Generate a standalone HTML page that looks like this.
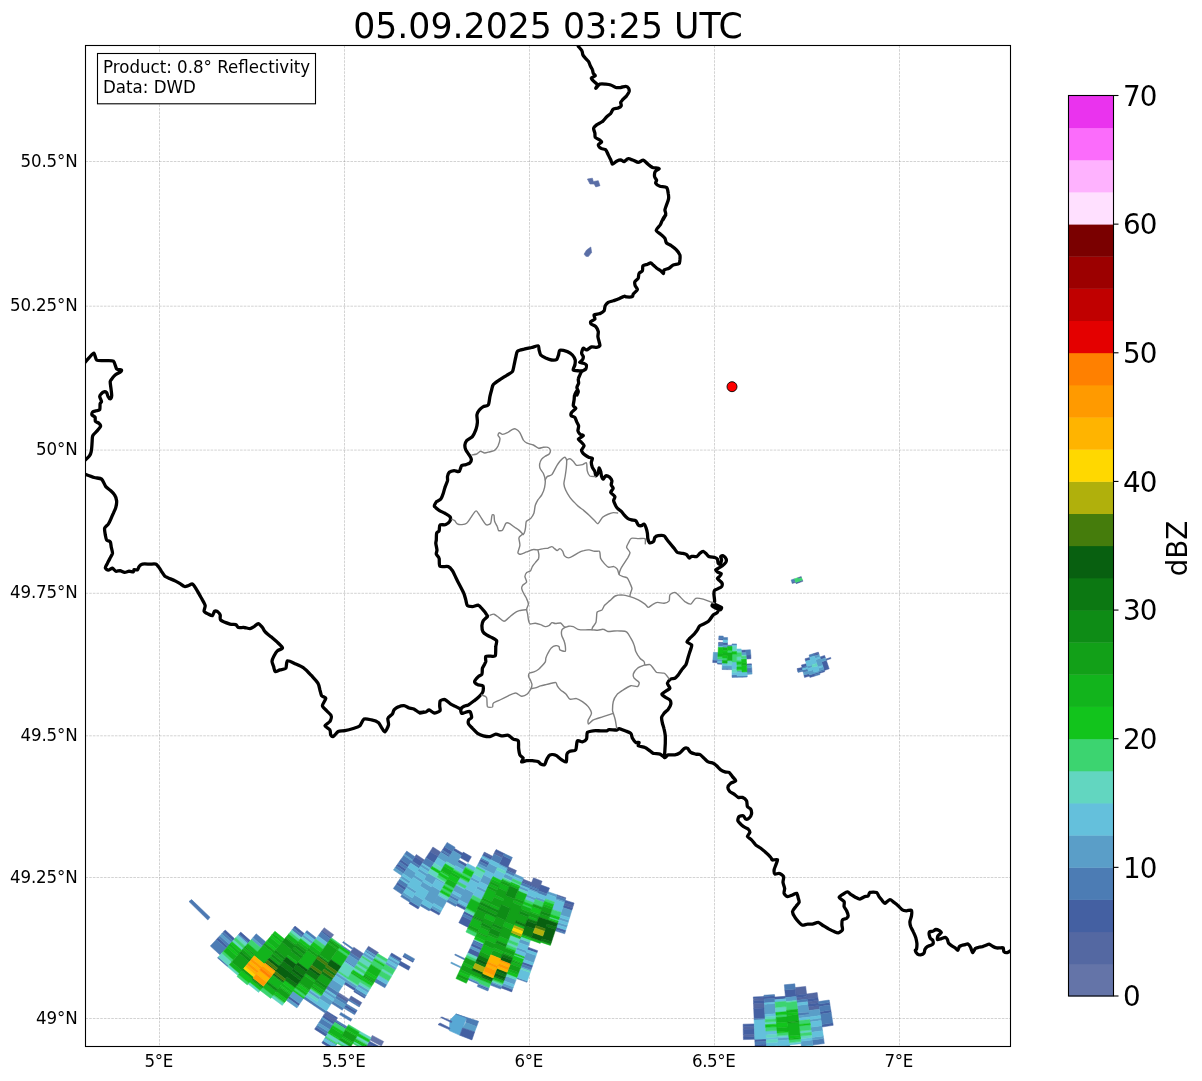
<!DOCTYPE html><html><head><meta charset="utf-8"><title>Radar</title><style>html,body{margin:0;padding:0;background:#fff}svg{display:block}text{font-family:"DejaVu Sans","Liberation Sans",sans-serif;fill:#000}</style></head><body>
<svg width="1202" height="1081" viewBox="0 0 1202 1081">
<rect width="1202" height="1081" fill="#fff"/>
<defs><clipPath id="c"><rect x="85.5" y="45.5" width="925.0" height="1001.0"/></clipPath></defs>
<g clip-path="url(#c)">
<g stroke="#808080" stroke-width="0.69" stroke-dasharray="2.57,1.11" stroke-opacity="0.5" fill="none">
<line x1="159.5" y1="45.5" x2="159.5" y2="1046.5"/>
<line x1="344.5" y1="45.5" x2="344.5" y2="1046.5"/>
<line x1="529.5" y1="45.5" x2="529.5" y2="1046.5"/>
<line x1="714.5" y1="45.5" x2="714.5" y2="1046.5"/>
<line x1="899.5" y1="45.5" x2="899.5" y2="1046.5"/>
<line x1="85.5" y1="161.5" x2="1010.5" y2="161.5"/>
<line x1="85.5" y1="306.2" x2="1010.5" y2="306.2"/>
<line x1="85.5" y1="450.1" x2="1010.5" y2="450.1"/>
<line x1="85.5" y1="593.3" x2="1010.5" y2="593.3"/>
<line x1="85.5" y1="735.8" x2="1010.5" y2="735.8"/>
<line x1="85.5" y1="877.5" x2="1010.5" y2="877.5"/>
<line x1="85.5" y1="1018.5" x2="1010.5" y2="1018.5"/>
</g>
<g shape-rendering="auto"><path fill="#6474a8" stroke="#6474a8" stroke-width="0.5" stroke-linejoin="round" d="M383.7 1041.5L372.3 1035.4L369.8 1039.9L381.3 1046.1ZM349.1 999.3L338.4 992.5L337.7 993.6L348.4 1000.4ZM333.7 934.7L324.2 927.7L321.9 930.8L331.4 937.8Z"/>
<path fill="#5468a2" stroke="#5468a2" stroke-width="0.5" stroke-linejoin="round" d="M801.2 576.5L797.8 577.7L798.2 578.9L801.6 577.7ZM802.5 580.1L799.1 581.3L799.5 582.5L802.9 581.3ZM795.3 581.2L791.9 582.3L792.2 583.5L795.7 582.5ZM818.3 652.1L813.7 653.6L814.0 654.8L818.7 653.3ZM817.2 992.6L806.6 994.0L807.2 999.1L817.9 997.7ZM818.3 1000.3L807.5 1001.7L807.8 1004.2L818.6 1002.8ZM819.0 1005.4L808.2 1006.8L808.6 1010.6L819.5 1009.2ZM805.7 986.4L795.2 987.6L796.0 995.3L806.6 994.0ZM806.9 996.6L796.3 997.8L796.5 1000.4L807.2 999.1ZM764.0 997.8L753.4 998.2L753.5 1000.8L764.2 1000.3ZM764.3 1002.9L753.5 1003.4L753.7 1008.5L764.6 1008.0ZM754.3 1026.5L743.2 1026.8L743.2 1029.3L754.4 1029.1ZM754.6 1034.2L743.3 1034.5L743.4 1037.1L754.7 1036.8ZM573.3 905.5L564.3 902.7L563.5 905.1L572.6 908.0ZM565.9 897.8L557.0 894.8L556.6 896.0L565.5 899.0ZM542.1 881.2L533.5 877.8L530.6 884.9L539.4 888.4ZM531.6 882.5L523.0 879.0L522.0 881.3L530.6 884.9ZM516.5 870.6L508.1 866.7L507.0 869.0L515.4 872.9ZM503.1 855.8L494.9 851.7L493.8 854.0L502.0 858.1ZM492.6 856.3L484.4 852.1L483.8 853.2L492.0 857.5ZM379.5 1049.5L368.0 1043.2L366.7 1045.5L378.3 1051.8ZM361.8 1002.6L351.1 996.0L349.1 999.3L359.8 1005.9ZM441.0 852.2L432.9 847.0L430.1 851.4L438.3 856.6ZM378.4 952.5L368.5 946.2L367.1 948.4L377.0 954.6ZM348.4 1000.4L337.7 993.6L336.3 995.8L347.0 1002.6ZM336.8 1018.9L325.8 1011.9L323.7 1015.2L334.8 1022.2ZM424.5 860.0L416.3 854.5L414.9 856.7L423.1 862.1ZM363.6 953.7L353.8 947.2L350.2 952.6L360.1 959.1Z"/>
<path fill="#4460a2" stroke="#4460a2" stroke-width="0.5" stroke-linejoin="round" d="M830.6 657.4L825.9 659.1L826.3 660.3L831.0 658.6ZM799.1 581.3L795.7 582.5L796.1 583.7L799.5 582.5ZM824.6 655.4L819.9 657.0L820.7 659.5L825.4 657.9ZM826.3 660.3L821.5 661.9L824.3 670.5L829.2 668.8ZM818.7 653.3L814.0 654.8L814.4 656.0L819.1 654.6ZM824.3 670.5L819.3 672.0L819.7 673.2L824.7 671.7ZM819.3 672.0L814.3 673.5L814.6 674.7L819.7 673.2ZM809.7 657.4L805.0 658.8L805.6 661.2L810.4 659.9ZM814.3 673.5L809.3 674.9L809.9 677.4L815.0 676.0ZM806.3 663.7L801.4 665.0L802.1 667.5L806.9 666.2ZM808.9 673.7L803.9 674.9L804.5 677.4L809.6 676.1ZM802.1 667.5L797.1 668.6L797.7 671.2L802.7 670.0ZM829.6 1002.5L818.8 1004.1L819.2 1006.6L830.0 1005.0ZM830.8 1010.1L819.9 1011.7L820.2 1014.3L831.2 1012.6ZM832.8 1022.8L821.7 1024.5L822.0 1027.0L833.2 1025.3ZM817.9 997.7L807.2 999.1L807.5 1001.7L818.3 1000.3ZM818.6 1002.8L807.8 1004.2L808.2 1006.8L819.0 1005.4ZM806.6 994.0L796.0 995.3L796.3 997.8L806.9 996.6ZM795.3 988.9L784.8 989.9L785.5 997.6L796.1 996.5ZM785.3 996.3L774.7 997.1L774.9 999.7L785.6 998.8ZM750.8 654.9L746.1 655.1L746.3 659.0L751.0 658.7ZM751.4 663.8L746.5 664.1L746.6 665.4L751.5 665.1ZM774.6 995.8L764.0 996.5L764.1 999.0L774.8 998.4ZM745.8 650.0L741.2 650.2L741.3 652.8L745.9 652.6ZM764.0 996.5L753.3 996.9L753.4 998.2L764.0 997.8ZM764.2 1000.3L753.5 1000.8L753.5 1003.4L764.3 1002.9ZM764.6 1008.0L753.7 1008.5L754.1 1018.8L765.1 1018.3ZM766.2 1038.8L754.8 1039.3L754.9 1041.9L766.3 1041.4ZM766.5 1044.0L755.0 1044.5L755.1 1047.0L766.6 1046.5ZM754.3 1023.9L743.1 1024.2L743.2 1026.8L754.3 1026.5ZM754.4 1029.1L743.2 1029.3L743.3 1034.5L754.6 1034.2ZM754.7 1036.8L743.4 1037.1L743.4 1039.6L754.8 1039.3ZM727.5 642.6L723.1 642.5L723.0 645.1L727.5 645.2ZM723.2 638.7L718.8 638.5L718.7 639.7L723.1 639.9ZM723.1 642.5L718.6 642.3L718.5 643.6L723.0 643.8ZM722.3 663.1L717.5 662.8L717.5 664.1L722.3 664.3ZM717.7 660.3L712.9 660.0L712.7 662.5L717.5 662.8ZM574.1 903.0L565.1 900.2L564.3 902.7L573.3 905.5ZM572.6 908.0L563.5 905.1L562.7 907.5L571.8 910.4ZM565.8 930.1L556.4 927.1L555.6 929.5L565.1 932.5ZM537.7 950.7L527.9 947.2L527.0 949.6L536.9 953.1ZM532.7 965.3L522.6 961.7L521.8 964.1L531.9 967.7ZM549.5 888.0L540.7 884.8L538.4 890.8L547.3 894.1ZM512.5 989.5L502.0 985.5L501.1 987.9L511.7 991.9ZM539.4 888.4L530.6 884.9L530.1 886.1L538.9 889.6ZM538.4 890.8L529.7 887.3L529.2 888.5L538.0 892.0ZM530.6 884.9L522.0 881.3L521.5 882.5L530.1 886.1ZM488.7 988.6L478.3 984.2L477.8 985.4L488.3 989.8ZM515.4 872.9L507.0 869.0L506.4 870.2L514.9 874.1ZM483.6 944.5L473.9 940.1L473.3 941.3L483.0 945.7ZM482.0 948.0L472.2 943.6L471.1 945.9L480.9 950.4ZM479.9 952.7L470.1 948.2L467.9 952.9L477.8 957.4ZM511.3 859.7L503.1 855.8L499.2 863.9L507.5 867.9ZM504.2 853.5L496.1 849.5L494.9 851.7L503.1 855.8ZM473.8 915.9L464.6 911.3L463.4 913.6L472.7 918.2ZM471.6 920.5L462.3 915.9L458.8 922.7L468.2 927.4ZM492.0 857.5L483.8 853.2L482.6 855.5L490.9 859.8ZM489.1 863.2L480.8 858.9L479.6 861.2L487.9 865.5ZM466.4 907.8L457.3 903.1L456.1 905.4L465.2 910.1ZM380.7 1047.2L369.2 1041.0L368.0 1043.2L379.5 1049.5ZM471.4 856.7L463.2 852.1L460.0 857.6L468.3 862.3ZM467.0 864.5L458.7 859.8L457.4 862.1L465.8 866.8ZM440.2 912.9L431.1 907.7L429.8 909.9L439.0 915.1ZM413.4 961.2L403.5 955.5L402.8 956.7L412.8 962.3ZM410.3 966.8L400.2 961.1L398.3 964.5L408.5 970.2ZM462.6 853.2L454.5 848.4L453.1 850.6L461.3 855.4ZM401.5 958.9L391.6 953.0L390.3 955.2L400.2 961.1ZM452.5 851.7L444.4 846.7L442.4 850.0L450.5 855.0ZM449.8 856.1L441.7 851.1L441.0 852.2L449.2 857.2ZM419.4 906.8L410.4 901.2L409.0 903.4L418.1 909.0ZM365.1 997.1L354.5 990.6L353.8 991.7L364.5 998.2ZM356.5 1011.4L345.7 1004.8L344.3 1006.9L355.2 1013.6ZM346.6 1027.9L335.5 1021.1L334.8 1022.2L345.9 1029.0ZM334.7 1047.8L323.2 1040.7L321.8 1042.9L333.4 1050.0ZM438.3 856.6L430.1 851.4L425.9 857.8L434.2 863.1ZM377.0 954.6L367.1 948.4L366.4 949.4L376.3 955.7ZM355.9 988.4L345.4 981.8L344.0 983.9L354.5 990.6ZM337.5 1017.8L326.5 1010.9L325.8 1011.9L336.8 1018.9ZM334.8 1022.2L323.7 1015.2L322.3 1017.3L333.4 1024.4ZM327.3 1034.2L316.0 1027.0L314.6 1029.2L325.9 1036.4ZM423.1 862.1L414.9 856.7L412.0 860.9L420.3 866.4ZM406.3 888.0L397.6 882.2L396.2 884.4L404.9 890.2ZM409.1 865.2L400.8 859.5L399.3 861.6L407.7 867.3ZM406.2 869.5L397.9 863.7L396.4 865.8L404.8 871.6ZM299.8 1003.7L289.1 996.1L287.6 998.1L298.4 1005.8ZM331.4 937.8L321.9 930.8L321.1 931.8L330.7 938.9ZM304.5 933.7L295.0 926.1L293.4 928.1L302.9 935.7ZM250.3 940.6L240.7 932.1L239.0 934.0L248.6 942.5ZM234.7 938.8L225.2 930.0L223.4 931.9L233.0 940.7ZM227.8 946.4L218.1 937.5L216.4 939.4L226.1 948.3Z"/>
<path fill="#4c7cb4" stroke="#4c7cb4" stroke-width="0.5" stroke-linejoin="round" d="M794.5 578.8L791.1 579.9L791.9 582.3L795.3 581.2ZM823.9 669.2L818.9 670.8L819.3 672.0L824.3 670.5ZM813.7 653.6L809.0 655.0L809.7 657.4L814.4 656.0ZM819.7 673.2L814.6 674.7L815.0 676.0L820.0 674.5ZM806.9 666.2L802.1 667.5L802.4 668.7L807.3 667.4ZM807.6 668.7L802.7 670.0L803.3 672.5L808.3 671.2ZM802.7 670.0L797.7 671.2L798.0 672.4L803.0 671.2ZM829.2 1000.0L818.4 1001.6L818.8 1004.1L829.6 1002.5ZM830.0 1005.0L819.2 1006.6L819.9 1011.7L830.8 1010.1ZM831.2 1012.6L820.2 1014.3L821.7 1024.5L832.8 1022.8ZM823.6 1038.5L812.2 1040.0L812.9 1045.1L824.3 1043.5ZM807.2 999.1L796.5 1000.4L796.8 1002.9L807.5 1001.7ZM808.8 1011.9L797.9 1013.1L798.1 1015.7L809.1 1014.4ZM794.8 983.8L784.3 984.8L784.8 989.9L795.3 988.9ZM750.4 649.7L745.8 650.0L746.1 655.1L750.8 654.9ZM751.7 667.7L746.8 668.0L747.0 673.1L752.0 672.8ZM774.5 994.6L763.9 995.2L764.0 996.5L774.6 995.8ZM774.8 998.4L764.1 999.0L764.3 1002.9L775.1 1002.2ZM747.2 675.7L742.1 675.9L742.2 677.2L747.2 677.0ZM765.1 1018.3L754.1 1018.8L754.1 1020.1L765.2 1019.6ZM766.3 1041.4L754.9 1041.9L755.0 1044.5L766.5 1044.0ZM742.1 675.9L737.1 676.0L737.1 677.3L742.2 677.2ZM736.5 643.9L732.0 643.9L732.0 645.2L736.5 645.2ZM737.0 674.7L732.0 674.8L732.0 677.4L737.1 677.3ZM732.0 645.2L727.5 645.2L727.5 646.5L732.0 646.5ZM732.0 668.4L727.1 668.3L727.1 669.6L732.0 669.6ZM727.6 637.5L723.2 637.4L723.1 639.9L727.6 640.1ZM727.1 668.3L722.2 668.2L722.1 669.5L727.1 669.6ZM723.3 636.1L718.9 635.9L718.8 638.5L723.2 638.7ZM723.0 643.8L718.5 643.6L718.4 646.2L722.9 646.4ZM565.1 932.5L555.6 929.5L555.2 930.8L564.7 933.8ZM565.5 899.0L556.6 896.0L555.7 898.4L564.7 901.4ZM531.9 967.7L521.8 964.1L520.9 966.5L531.0 970.1ZM527.3 981.1L516.9 977.4L516.5 978.6L526.9 982.3ZM547.3 894.1L538.4 890.8L537.5 893.2L546.4 896.5ZM538.9 889.6L530.1 886.1L529.7 887.3L538.4 890.8ZM501.6 986.7L491.1 982.6L490.2 985.0L500.7 989.1ZM530.1 886.1L521.5 882.5L520.4 884.9L529.2 888.5ZM488.3 989.8L477.8 985.4L477.3 986.6L487.8 991.0ZM478.8 983.1L468.4 978.6L467.9 979.7L478.3 984.2ZM514.9 874.1L506.4 870.2L505.4 872.5L513.9 876.4ZM483.0 945.7L473.3 941.3L472.2 943.6L482.0 948.0ZM512.4 857.4L504.2 853.5L503.1 855.8L511.3 859.7ZM465.2 958.7L455.2 954.0L454.7 955.1L464.6 959.9ZM502.0 858.1L493.8 854.0L490.9 859.8L499.2 863.9ZM472.7 918.2L463.4 913.6L462.3 915.9L471.6 920.5ZM489.7 862.0L481.4 857.7L480.8 858.9L489.1 863.2ZM487.9 865.5L479.6 861.2L478.4 863.4L486.8 867.8ZM459.1 899.7L450.2 894.9L449.0 897.1L457.9 902.0ZM456.7 904.3L447.7 899.4L446.5 901.6L455.5 906.5ZM414.7 958.9L404.7 953.3L403.5 955.5L413.4 961.2ZM430.4 908.8L421.4 903.5L420.1 905.7L429.2 911.0ZM400.2 961.1L390.3 955.2L389.6 956.3L399.6 962.2ZM386.8 984.5L376.4 978.4L374.4 981.7L384.8 987.8ZM455.1 847.3L447.1 842.4L444.4 846.7L452.5 851.7ZM450.5 855.0L442.4 850.0L441.7 851.1L449.8 856.1ZM366.4 994.9L355.9 988.4L354.5 990.6L365.1 997.1ZM359.8 1005.9L349.1 999.3L348.4 1000.4L359.2 1007.0ZM357.2 1010.3L346.3 1003.7L345.7 1004.8L356.5 1011.4ZM355.2 1013.6L344.3 1006.9L343.6 1008.0L354.5 1014.7ZM351.9 1019.1L340.9 1012.4L339.5 1014.6L350.6 1021.3ZM347.3 1026.8L336.1 1020.0L335.5 1021.1L346.6 1027.9ZM434.2 863.1L425.9 857.8L422.4 863.2L430.8 868.5ZM411.0 900.1L402.1 894.5L400.7 896.6L409.7 902.3ZM375.6 956.8L365.7 950.5L365.0 951.6L374.9 957.9ZM347.0 1002.6L336.3 995.8L334.9 997.9L345.7 1004.8ZM343.6 1008.0L332.8 1001.2L331.4 1003.3L342.3 1010.2ZM332.7 1025.5L321.6 1018.4L318.8 1022.7L330.0 1029.8ZM328.6 1032.0L317.4 1024.9L316.0 1027.0L327.3 1034.2ZM420.3 866.4L412.0 860.9L410.6 863.1L418.9 868.6ZM408.4 884.8L399.8 879.0L397.6 882.2L406.3 888.0ZM404.9 890.2L396.2 884.4L393.3 888.6L402.1 894.5ZM360.1 959.1L350.2 952.6L348.8 954.7L358.7 961.3ZM355.2 966.7L345.2 960.0L344.4 961.1L354.5 967.7ZM338.4 992.5L327.9 985.6L325.8 988.8L336.3 995.8ZM326.5 1010.9L315.7 1003.7L314.3 1005.8L325.1 1013.0ZM414.9 856.7L406.7 851.1L404.5 854.2L412.7 859.9ZM412.0 860.9L403.8 855.3L400.8 859.5L409.1 865.2ZM407.7 867.3L399.3 861.6L397.9 863.7L406.2 869.5ZM404.8 871.6L396.4 865.8L394.9 867.9L403.4 873.7ZM353.1 948.3L343.3 941.6L342.6 942.6L352.3 949.4ZM350.9 951.5L341.1 944.7L340.4 945.8L350.2 952.6ZM315.7 1003.7L305.0 996.3L303.5 998.4L314.3 1005.8ZM330.7 938.9L321.1 931.8L318.0 935.9L327.7 943.0ZM316.5 937.9L306.9 930.6L305.3 932.6L314.9 940.0ZM302.9 935.7L293.4 928.1L291.8 930.1L301.4 937.7ZM265.9 942.0L256.2 933.8L252.9 937.7L262.6 946.0ZM248.6 942.5L239.0 934.0L238.2 935.0L247.8 943.5ZM228.4 965.8L218.4 956.9L217.5 957.9L227.6 966.8ZM233.0 940.7L223.4 931.9L221.7 933.8L231.3 942.6ZM229.6 944.5L219.9 935.7L218.1 937.5L227.8 946.4ZM226.1 948.3L216.4 939.4L210.3 946.0L220.1 955.0Z"/>
<path fill="#5a9ec8" stroke="#5a9ec8" stroke-width="0.5" stroke-linejoin="round" d="M825.4 657.9L820.7 659.5L821.5 661.9L826.3 660.3ZM819.1 654.6L814.4 656.0L815.2 658.5L819.9 657.0ZM820.3 658.2L815.5 659.7L817.8 667.1L822.7 665.6ZM823.1 666.8L818.2 668.3L818.9 670.8L823.9 669.2ZM818.9 670.8L813.9 672.3L814.3 673.5L819.3 672.0ZM811.8 664.9L806.9 666.2L807.6 668.7L812.5 667.3ZM813.2 669.8L808.3 671.2L809.3 674.9L814.3 673.5ZM808.3 671.2L803.3 672.5L803.9 674.9L808.9 673.7ZM819.5 1009.2L808.6 1010.6L809.4 1017.0L820.4 1015.6ZM820.8 1018.1L809.7 1019.6L810.0 1022.1L821.1 1020.6ZM821.8 1025.7L810.7 1027.2L811.3 1032.3L822.6 1030.8ZM823.3 1035.9L811.9 1037.4L812.2 1040.0L823.6 1038.5ZM807.8 1004.2L797.1 1005.5L797.9 1013.1L808.8 1011.9ZM809.1 1014.4L798.1 1015.7L798.4 1018.3L809.4 1017.0ZM812.2 1040.0L800.8 1041.3L801.4 1046.4L812.9 1045.1ZM796.1 996.5L785.5 997.6L785.8 1001.4L796.5 1000.4ZM788.9 1037.2L777.6 1038.1L777.7 1040.7L789.2 1039.8ZM789.6 1044.9L778.1 1045.8L778.2 1047.1L789.7 1046.2ZM751.5 665.1L746.6 665.4L746.8 668.0L751.7 667.7ZM752.0 672.8L747.0 673.1L747.1 674.4L752.1 674.1ZM775.1 1003.5L764.4 1004.2L764.9 1014.4L775.9 1013.8ZM745.9 652.6L741.3 652.8L741.4 655.3L746.1 655.1ZM741.9 670.8L737.0 670.9L737.0 672.2L742.0 672.0ZM732.0 665.8L727.1 665.7L727.1 668.3L732.0 668.4ZM727.5 645.2L723.0 645.1L722.9 647.6L727.4 647.8ZM727.1 665.7L722.3 665.6L722.2 668.2L727.1 668.3ZM722.5 659.2L717.7 659.0L717.6 661.6L722.4 661.8ZM718.1 652.6L713.4 652.3L712.9 660.0L717.7 660.3ZM571.8 910.4L562.7 907.5L560.3 914.9L569.6 917.8ZM568.8 920.2L559.5 917.3L558.7 919.8L568.1 922.7ZM567.3 925.2L557.9 922.2L557.1 924.7L566.6 927.6ZM564.7 901.4L555.7 898.4L555.3 899.6L564.3 902.7ZM557.0 894.8L548.1 891.7L547.3 894.1L556.1 897.2ZM536.1 955.5L526.2 952.0L523.5 959.3L533.6 962.8ZM531.0 970.1L520.9 966.5L520.5 967.7L530.6 971.3ZM545.1 900.1L536.1 896.8L535.2 899.2L544.2 902.5ZM529.7 942.4L520.0 938.8L518.6 942.4L528.4 946.0ZM526.6 950.8L516.8 947.2L515.9 949.6L525.7 953.2ZM516.1 979.8L505.7 975.9L503.9 980.7L514.3 984.6ZM513.4 987.0L503.0 983.1L502.0 985.5L512.5 989.5ZM538.0 892.0L529.2 888.5L528.7 889.7L537.5 893.2ZM535.7 898.0L526.8 894.5L525.8 896.8L534.7 900.4ZM502.0 985.5L491.6 981.4L491.1 982.6L501.6 986.7ZM528.7 889.7L519.9 886.1L518.9 888.4L527.7 892.1ZM489.2 987.4L478.8 983.1L478.3 984.2L488.7 988.6ZM523.5 877.8L514.9 874.1L513.9 876.4L522.5 880.2ZM479.3 981.9L468.9 977.4L468.4 978.6L478.8 983.1ZM513.3 877.6L504.8 873.7L503.2 877.2L511.8 881.1ZM480.9 950.4L471.1 945.9L470.1 948.2L479.9 952.7ZM507.5 867.9L499.2 863.9L498.6 865.0L507.0 869.0ZM461.4 966.9L451.3 962.1L450.7 963.2L460.8 968.0ZM497.5 867.4L489.1 863.2L485.6 870.1L494.1 874.3ZM491.8 878.9L483.3 874.6L479.8 881.5L488.5 885.8ZM486.2 890.5L477.4 886.1L476.3 888.4L485.1 892.8ZM490.9 859.8L482.6 855.5L482.0 856.6L490.3 860.9ZM486.8 867.8L478.4 863.4L477.2 865.7L485.6 870.1ZM479.8 881.5L471.2 877.0L470.0 879.3L478.6 883.8ZM473.9 893.0L465.1 888.4L459.1 899.7L468.1 904.4ZM466.9 906.7L457.9 902.0L457.3 903.1L466.4 907.8ZM464.5 889.5L455.8 884.8L452.7 890.4L461.5 895.2ZM460.3 897.5L451.4 892.6L450.2 894.9L459.1 899.7ZM457.9 902.0L449.0 897.1L447.7 899.4L456.7 904.3ZM465.8 866.8L457.4 862.1L455.5 865.4L463.9 870.2ZM447.1 900.5L438.2 895.5L433.7 903.2L442.7 908.4ZM441.5 910.6L432.4 905.5L431.1 907.7L440.2 912.9ZM461.3 855.4L453.1 850.6L446.5 861.6L454.9 866.5ZM445.2 883.2L436.6 878.1L435.9 879.2L444.6 884.3ZM440.7 891.0L432.0 885.8L424.0 899.1L433.0 904.4ZM399.0 963.3L388.9 957.4L387.6 959.6L397.7 965.6ZM396.4 967.8L386.3 961.8L385.0 964.0L395.1 970.0ZM449.2 857.2L441.0 852.2L437.6 857.6L445.9 862.7ZM436.6 878.1L428.1 872.9L424.0 879.4L432.6 884.7ZM431.3 886.9L422.6 881.6L419.9 886.0L428.7 891.4ZM423.4 900.2L414.4 894.7L410.4 901.2L419.4 906.8ZM369.1 990.5L358.6 984.1L357.2 986.2L367.8 992.7ZM336.7 1044.5L325.2 1037.5L324.6 1038.5L336.0 1045.6ZM430.1 869.6L421.7 864.3L420.3 866.4L428.7 871.8ZM427.4 874.0L418.9 868.6L417.5 870.8L426.0 876.2ZM423.3 880.5L414.7 875.1L413.3 877.2L421.9 882.7ZM416.5 891.4L407.7 885.8L406.3 888.0L415.1 893.6ZM412.4 898.0L403.5 892.3L402.1 894.5L411.0 900.1ZM376.3 955.7L366.4 949.4L365.7 950.5L375.6 956.8ZM374.3 959.0L364.3 952.7L362.9 954.8L372.9 961.2ZM357.2 986.2L346.8 979.6L345.4 981.8L355.9 988.4ZM345.7 1004.8L334.9 997.9L332.8 1001.2L343.6 1008.0ZM333.4 1024.4L322.3 1017.3L321.6 1018.4L332.7 1025.5ZM330.0 1029.8L318.8 1022.7L317.4 1024.9L328.6 1032.0ZM416.1 872.9L407.7 867.3L403.4 873.7L411.9 879.4ZM410.5 881.5L401.9 875.8L400.5 878.0L409.1 883.7ZM358.7 961.3L348.8 954.7L345.2 960.0L355.2 966.7ZM346.8 979.6L336.5 972.8L335.1 974.9L345.4 981.8ZM342.6 986.1L332.2 979.2L327.9 985.6L338.4 992.5ZM335.6 996.8L325.0 989.8L323.6 992.0L334.2 999.0ZM332.8 1001.2L322.2 994.1L319.3 998.4L330.0 1005.5ZM412.7 859.9L404.5 854.2L403.8 855.3L412.0 860.9ZM403.4 873.7L394.9 867.9L393.4 870.0L401.9 875.8ZM320.0 997.3L309.4 990.0L307.9 992.1L318.6 999.4ZM303.5 998.4L292.9 990.9L289.1 996.1L299.8 1003.7ZM298.4 1005.8L287.6 998.1L286.1 1000.2L296.9 1007.9ZM313.4 942.1L303.7 934.7L302.1 936.7L311.8 944.1ZM262.6 946.0L252.9 937.7L251.2 939.6L260.9 947.9ZM231.3 942.6L221.7 933.8L219.9 935.7L229.6 944.5Z"/>
<path fill="#64c0dc" stroke="#64c0dc" stroke-width="0.5" stroke-linejoin="round" d="M819.9 657.0L815.2 658.5L815.5 659.7L820.3 658.2ZM822.7 665.6L817.8 667.1L818.2 668.3L823.1 666.8ZM814.4 656.0L809.7 657.4L811.8 664.9L816.7 663.4ZM817.4 665.9L812.5 667.3L813.9 672.3L818.9 670.8ZM810.4 659.9L805.6 661.2L806.9 666.2L811.8 664.9ZM812.5 667.3L807.6 668.7L808.3 671.2L813.2 669.8ZM807.3 667.4L802.4 668.7L802.7 670.0L807.6 668.7ZM820.4 1015.6L809.4 1017.0L809.7 1019.6L820.8 1018.1ZM821.1 1020.6L810.0 1022.1L810.7 1027.2L821.8 1025.7ZM822.6 1030.8L811.3 1032.3L811.9 1037.4L823.3 1035.9ZM807.5 1001.7L796.8 1002.9L797.1 1005.5L807.8 1004.2ZM809.4 1017.0L798.4 1018.3L798.7 1020.8L809.7 1019.6ZM811.9 1037.4L800.5 1038.7L800.8 1041.3L812.2 1040.0ZM812.9 1045.1L801.4 1046.4L801.5 1047.6L813.0 1046.3ZM801.0 1042.5L789.5 1043.6L789.6 1044.9L801.1 1043.8ZM785.6 998.8L774.9 999.7L775.1 1002.2L785.8 1001.4ZM788.8 1036.0L777.5 1036.9L777.6 1038.1L788.9 1037.2ZM789.2 1039.8L777.7 1040.7L778.1 1045.8L789.6 1044.9ZM775.1 1002.2L764.3 1002.9L764.4 1004.2L775.1 1003.5ZM775.9 1013.8L764.9 1014.4L765.0 1017.0L776.0 1016.3ZM777.0 1030.4L765.8 1031.1L766.0 1035.0L777.3 1034.3ZM777.5 1036.9L766.1 1037.5L766.3 1040.1L777.7 1039.4ZM777.8 1042.0L766.4 1042.7L766.6 1046.5L778.1 1045.8ZM747.0 671.8L742.0 672.0L742.1 675.9L747.2 675.7ZM765.2 1019.6L754.1 1020.1L754.8 1039.3L766.2 1038.8ZM741.2 648.9L736.6 649.0L736.6 651.6L741.3 651.5ZM742.0 672.0L737.0 672.2L737.1 676.0L742.1 675.9ZM736.5 645.2L732.0 645.2L732.0 646.5L736.5 646.5ZM736.8 661.9L732.0 661.9L732.0 669.6L736.9 669.6ZM737.0 672.2L732.0 672.2L732.0 674.8L737.0 674.7ZM732.0 664.5L727.1 664.5L727.1 665.7L732.0 665.8ZM727.6 640.1L723.1 639.9L723.1 642.5L727.5 642.6ZM727.2 663.2L722.3 663.1L722.3 665.6L727.1 665.7ZM722.9 646.4L718.4 646.2L718.3 647.4L722.9 647.6ZM722.4 661.8L717.6 661.6L717.5 662.8L722.3 663.1ZM569.6 917.8L560.3 914.9L559.5 917.3L568.8 920.2ZM568.1 922.7L558.7 919.8L557.9 922.2L567.3 925.2ZM566.6 927.6L557.1 924.7L556.4 927.1L565.8 930.1ZM564.3 902.7L555.3 899.6L552.0 909.4L561.1 912.4ZM556.1 897.2L547.3 894.1L545.5 898.9L554.5 902.1ZM536.9 953.1L527.0 949.6L526.2 952.0L536.1 955.5ZM533.6 962.8L523.5 959.3L522.6 961.7L532.7 965.3ZM530.2 972.5L520.0 968.9L516.9 977.4L527.3 981.1ZM546.4 896.5L537.5 893.2L536.1 896.8L545.1 900.1ZM528.4 946.0L518.6 942.4L516.8 947.2L526.6 950.8ZM525.7 953.2L515.9 949.6L514.5 953.2L524.4 956.9ZM514.3 984.6L503.9 980.7L503.0 983.1L513.4 987.0ZM537.5 893.2L528.7 889.7L526.8 894.5L535.7 898.0ZM534.7 900.4L525.8 896.8L524.8 899.2L533.8 902.8ZM529.2 888.5L520.4 884.9L519.9 886.1L528.7 889.7ZM522.5 880.2L513.9 876.4L512.8 878.8L521.5 882.5ZM513.9 876.4L505.4 872.5L504.8 873.7L513.3 877.6ZM507.0 869.0L498.6 865.0L497.5 867.4L505.9 871.4ZM504.8 873.7L496.3 869.7L493.0 876.6L501.6 880.7ZM499.2 863.9L490.9 859.8L489.1 863.2L497.5 867.4ZM494.1 874.3L485.6 870.1L483.3 874.6L491.8 878.9ZM488.5 885.8L479.8 881.5L477.4 886.1L486.2 890.5ZM485.1 892.8L476.3 888.4L472.8 895.3L481.7 899.7ZM490.3 860.9L482.0 856.6L481.4 857.7L489.7 862.0ZM485.6 870.1L477.2 865.7L476.6 866.8L485.0 871.2ZM481.5 878.1L473.0 873.6L471.2 877.0L479.8 881.5ZM478.6 883.8L470.0 879.3L465.1 888.4L473.9 893.0ZM468.1 904.4L459.1 899.7L457.9 902.0L466.9 906.7ZM476.0 868.0L467.6 863.4L465.8 866.8L474.2 871.4ZM468.2 882.7L459.5 878.0L457.7 881.4L466.4 886.1ZM465.1 888.4L456.4 883.6L455.8 884.8L464.5 889.5ZM461.5 895.2L452.7 890.4L451.4 892.6L460.3 897.5ZM463.9 870.2L455.5 865.4L453.6 868.7L462.0 873.5ZM447.7 899.4L438.8 894.3L438.2 895.5L447.1 900.5ZM442.7 908.4L433.7 903.2L432.4 905.5L441.5 910.6ZM444.6 884.3L435.9 879.2L432.0 885.8L440.7 891.0ZM433.0 904.4L424.0 899.1L421.4 903.5L430.4 908.8ZM399.6 962.2L389.6 956.3L388.9 957.4L399.0 963.3ZM397.7 965.6L387.6 959.6L386.3 961.8L396.4 967.8ZM388.7 981.1L378.4 975.1L376.4 978.4L386.8 984.5ZM445.9 862.7L437.6 857.6L434.2 863.1L442.6 868.2ZM432.6 884.7L424.0 879.4L422.6 881.6L431.3 886.9ZM428.7 891.4L419.9 886.0L414.4 894.7L423.4 900.2ZM367.8 992.7L357.2 986.2L355.9 988.4L366.4 994.9ZM336.0 1045.6L324.6 1038.5L323.2 1040.7L334.7 1047.8ZM430.8 868.5L422.4 863.2L421.7 864.3L430.1 869.6ZM428.7 871.8L420.3 866.4L418.9 868.6L427.4 874.0ZM426.0 876.2L417.5 870.8L414.7 875.1L423.3 880.5ZM421.9 882.7L413.3 877.2L407.7 885.8L416.5 891.4ZM415.1 893.6L406.3 888.0L403.5 892.3L412.4 898.0ZM374.9 957.9L365.0 951.6L364.3 952.7L374.3 959.0ZM372.9 961.2L362.9 954.8L362.2 955.9L372.2 962.3ZM418.9 868.6L410.6 863.1L407.7 867.3L416.1 872.9ZM411.9 879.4L403.4 873.7L401.9 875.8L410.5 881.5ZM409.1 883.7L400.5 878.0L399.8 879.0L408.4 884.8ZM354.5 967.7L344.4 961.1L343.7 962.1L353.8 968.8ZM347.5 978.5L337.3 971.7L336.5 972.8L346.8 979.6ZM345.4 981.8L335.1 974.9L332.2 979.2L342.6 986.1ZM336.3 995.8L325.8 988.8L325.0 989.8L335.6 996.8ZM334.2 999.0L323.6 992.0L322.2 994.1L332.8 1001.2ZM330.0 1005.5L319.3 998.4L315.7 1003.7L326.5 1010.9ZM320.7 996.2L310.2 989.0L309.4 990.0L320.0 997.3ZM317.1 1001.6L306.5 994.2L305.0 996.3L315.7 1003.7ZM327.7 943.0L318.0 935.9L315.7 939.0L325.4 946.2ZM314.9 940.0L305.3 932.6L303.7 934.7L313.4 942.1ZM247.8 943.5L238.2 935.0L237.3 935.9L247.0 944.5Z"/>
<path fill="#62d6c0" stroke="#62d6c0" stroke-width="0.5" stroke-linejoin="round" d="M816.7 663.4L811.8 664.9L812.5 667.3L817.4 665.9ZM811.0 1029.8L799.7 1031.0L800.0 1033.6L811.3 1032.3ZM811.6 1034.9L800.3 1036.1L800.5 1038.7L811.9 1037.4ZM796.5 1000.4L785.8 1001.4L785.9 1002.7L796.7 1001.6ZM800.8 1041.3L789.4 1042.4L789.5 1043.6L801.0 1042.5ZM786.2 1006.5L775.4 1007.4L775.8 1012.5L786.7 1011.6ZM788.7 1034.7L777.4 1035.6L777.5 1036.9L788.8 1036.0ZM776.0 1016.3L765.0 1017.0L765.2 1019.6L776.2 1018.9ZM776.4 1021.5L765.3 1022.1L765.4 1024.7L776.6 1024.0ZM777.3 1034.3L766.0 1035.0L766.1 1037.5L777.5 1036.9ZM777.7 1039.4L766.3 1040.1L766.4 1042.7L777.8 1042.0ZM746.1 655.1L741.4 655.3L741.4 656.6L746.1 656.4ZM746.2 657.7L741.5 657.9L741.5 659.2L746.3 659.0ZM741.3 651.5L736.6 651.6L736.7 652.9L741.3 652.8ZM741.4 656.6L736.7 656.8L736.8 660.6L741.6 660.5ZM736.5 646.5L732.0 646.5L732.0 651.7L736.6 651.6ZM736.9 669.6L732.0 669.6L732.0 672.2L737.0 672.2ZM732.0 660.6L727.2 660.6L727.1 664.5L732.0 664.5ZM558.7 919.8L549.5 916.7L549.0 917.9L558.3 921.0ZM530.6 971.3L520.5 967.7L520.0 968.9L530.2 972.5ZM530.6 940.0L520.9 936.4L520.0 938.8L529.7 942.4ZM524.0 958.1L514.0 954.4L513.6 955.5L523.5 959.3ZM516.9 977.4L506.7 973.5L505.7 975.9L516.1 979.8ZM520.0 938.8L510.4 935.0L508.5 939.7L518.2 943.6ZM517.2 946.0L507.5 942.1L506.6 944.5L516.3 948.4ZM502.5 984.3L492.1 980.2L491.6 981.4L502.0 985.5ZM527.7 892.1L518.9 888.4L517.9 890.8L526.8 894.5ZM520.4 884.9L511.8 881.1L511.3 882.3L519.9 886.1ZM511.8 881.1L503.2 877.2L502.6 878.4L511.3 882.3ZM484.1 943.3L474.4 938.9L473.9 940.1L483.6 944.5ZM477.8 957.4L467.9 952.9L466.8 955.2L476.8 959.8ZM505.9 871.4L497.5 867.4L496.3 869.7L504.8 873.7ZM474.9 913.6L465.8 909.0L464.6 911.3L473.8 915.9ZM484.4 872.4L476.0 868.0L473.0 873.6L481.5 878.1ZM449.0 897.1L440.1 892.1L438.8 894.3L447.7 899.4ZM371.1 1037.6L359.8 1031.2L358.5 1033.4L369.8 1039.9ZM368.6 1042.1L357.2 1035.7L355.9 1037.9L367.3 1044.4ZM365.5 1047.7L354.0 1041.2L353.3 1042.3L364.8 1048.9ZM454.9 866.5L446.5 861.6L445.2 863.8L453.6 868.7ZM445.9 882.1L437.3 877.0L436.6 878.1L445.2 883.2ZM392.5 974.5L382.3 968.5L381.0 970.7L391.3 976.7ZM350.8 1046.8L339.3 1040.0L338.0 1042.3L349.5 1049.0ZM442.6 868.2L434.2 863.1L432.1 866.4L440.6 871.5ZM439.2 873.7L430.8 868.5L428.1 872.9L436.6 878.1ZM386.3 961.8L376.3 955.7L374.9 957.9L385.0 964.0ZM370.4 988.3L360.0 981.9L358.6 984.1L369.1 990.5ZM339.3 1040.0L328.0 1033.1L325.9 1036.4L337.3 1043.4ZM371.5 963.4L361.5 957.0L358.7 961.3L368.8 967.7ZM367.5 969.9L357.3 963.4L355.9 965.6L366.1 972.1ZM364.7 974.2L354.5 967.7L353.1 969.9L363.4 976.4ZM357.9 985.1L347.5 978.5L346.8 979.6L357.2 986.2ZM353.8 968.8L343.7 962.1L338.0 970.7L348.2 977.4ZM318.6 999.4L307.9 992.1L306.5 994.2L317.1 1001.6ZM283.8 1003.3L273.1 995.4L271.6 997.5L282.3 1005.4ZM311.8 944.1L302.1 936.7L300.6 938.7L310.3 946.2ZM301.4 937.7L291.8 930.1L290.2 932.1L299.8 939.7ZM260.2 990.4L249.7 982.0L248.1 984.0L258.6 992.4ZM239.4 973.5L229.3 964.8L227.6 966.8L237.8 975.5ZM247.0 944.5L237.3 935.9L235.6 937.8L245.3 946.4ZM243.6 948.4L233.9 939.7L232.1 941.7L241.9 950.3ZM231.8 961.9L221.8 953.1L218.4 956.9L228.4 965.8Z"/>
<path fill="#3cd470" stroke="#3cd470" stroke-width="0.5" stroke-linejoin="round" d="M801.6 577.7L798.2 578.9L799.1 581.3L802.5 580.1ZM797.8 577.7L794.5 578.8L795.7 582.5L799.1 581.3ZM809.7 1019.6L798.7 1020.8L799.1 1024.6L810.2 1023.4ZM810.4 1024.7L799.2 1025.9L799.7 1031.0L811.0 1029.8ZM811.3 1032.3L800.0 1033.6L800.3 1036.1L811.6 1034.9ZM796.7 1001.6L785.9 1002.7L786.6 1010.4L797.5 1009.3ZM800.5 1038.7L789.2 1039.8L789.4 1042.4L800.8 1041.3ZM785.8 1001.4L775.1 1002.2L775.4 1007.4L786.2 1006.5ZM786.9 1014.2L776.0 1015.1L776.1 1017.6L787.1 1016.8ZM788.5 1032.1L777.2 1033.0L777.4 1035.6L788.7 1034.7ZM776.2 1018.9L765.2 1019.6L765.3 1022.1L776.4 1021.5ZM776.8 1026.6L765.6 1027.3L765.8 1031.1L777.0 1030.4ZM746.1 656.4L741.4 656.6L741.5 657.9L746.2 657.7ZM741.3 652.8L736.7 652.9L736.7 656.8L741.4 656.6ZM741.6 660.5L736.8 660.6L736.8 661.9L741.6 661.8ZM741.7 664.3L736.9 664.5L736.9 667.0L741.8 666.9ZM741.9 669.5L736.9 669.6L737.0 670.9L741.9 670.8ZM736.7 654.2L732.0 654.2L732.0 661.9L736.8 661.9ZM732.0 650.4L727.4 650.3L727.3 652.9L732.0 652.9ZM727.3 658.0L722.5 657.9L722.4 660.5L727.2 660.6ZM722.6 656.6L717.9 656.4L717.7 659.0L722.5 659.2ZM561.1 912.4L552.0 909.4L550.3 914.2L559.5 917.3ZM554.5 902.1L545.5 898.9L544.6 901.3L553.6 904.5ZM544.2 902.5L535.2 899.2L533.4 904.0L542.4 907.4ZM533.8 902.8L524.8 899.2L523.9 901.6L532.9 905.2ZM532.0 907.6L522.9 904.0L522.4 905.2L531.5 908.8ZM518.2 943.6L508.5 939.7L507.5 942.1L517.2 946.0ZM516.3 948.4L506.6 944.5L505.6 946.9L515.4 950.8ZM503.0 983.1L492.6 979.1L492.1 980.2L502.5 984.3ZM490.7 983.8L480.3 979.5L478.8 983.1L489.2 987.4ZM521.5 882.5L512.8 878.8L511.8 881.1L520.4 884.9ZM480.3 979.5L470.0 975.0L468.9 977.4L479.3 981.9ZM511.3 882.3L502.6 878.4L502.1 879.5L510.7 883.5ZM476.8 959.8L466.8 955.2L465.7 957.6L475.7 962.1ZM477.1 933.1L467.6 928.6L465.9 932.0L475.5 936.6ZM481.7 899.7L472.8 895.3L471.0 898.7L480.0 903.2ZM475.5 912.4L466.4 907.8L465.8 909.0L474.9 913.6ZM485.0 871.2L476.6 866.8L476.0 868.0L484.4 872.4ZM474.2 871.4L465.8 866.8L465.1 867.9L473.6 872.5ZM471.2 877.0L462.7 872.4L461.4 874.7L470.0 879.3ZM468.8 881.6L460.2 876.9L459.5 878.0L468.2 882.7ZM466.4 886.1L457.7 881.4L456.4 883.6L465.1 888.4ZM462.0 873.5L453.6 868.7L452.9 869.9L461.4 874.7ZM453.9 888.1L445.2 883.2L443.9 885.4L452.7 890.4ZM451.4 892.6L442.7 887.7L441.4 889.9L450.2 894.9ZM367.3 1044.4L355.9 1037.9L355.3 1039.0L366.7 1045.5ZM364.8 1048.9L353.3 1042.3L352.7 1043.5L364.2 1050.0ZM449.1 876.5L440.6 871.5L439.9 872.6L448.4 877.6ZM447.1 879.9L438.6 874.8L437.3 877.0L445.9 882.1ZM395.1 970.0L385.0 964.0L382.3 968.5L392.5 974.5ZM391.3 976.7L381.0 970.7L378.4 975.1L388.7 981.1ZM359.8 1031.2L348.6 1024.6L347.9 1025.7L359.1 1032.3ZM349.5 1049.0L338.0 1042.3L337.3 1043.4L348.8 1050.1ZM387.6 959.6L377.7 953.5L376.3 955.7L386.3 961.8ZM385.0 964.0L374.9 957.9L374.3 959.0L384.3 965.1ZM383.7 966.2L373.6 960.1L370.9 964.4L381.0 970.7ZM371.7 986.1L361.3 979.7L360.0 981.9L370.4 988.3ZM345.9 1029.0L334.8 1022.2L332.7 1025.5L343.9 1032.3ZM337.3 1043.4L325.9 1036.4L325.2 1037.5L336.7 1044.5ZM372.2 962.3L362.2 955.9L361.5 957.0L371.5 963.4ZM368.8 967.7L358.7 961.3L357.3 963.4L367.5 969.9ZM366.1 972.1L355.9 965.6L354.5 967.7L364.7 974.2ZM361.3 979.7L351.0 973.1L347.5 978.5L357.9 985.1ZM348.2 977.4L338.0 970.7L337.3 971.7L347.5 978.5ZM348.8 954.7L338.9 947.9L337.4 950.0L347.3 956.8ZM321.5 995.2L310.9 987.9L310.2 989.0L320.7 996.2ZM341.1 944.7L331.4 937.8L330.7 938.9L340.4 945.8ZM305.7 995.3L295.2 987.7L293.7 989.8L304.3 997.4ZM325.4 946.2L315.7 939.0L313.4 942.1L323.1 949.3ZM284.6 1002.3L273.9 994.4L273.1 995.4L283.8 1003.3ZM273.1 995.4L262.6 987.3L260.2 990.4L270.8 998.5ZM299.8 939.7L290.2 932.1L288.6 934.1L298.2 941.8ZM248.9 983.0L238.6 974.5L237.0 976.5L247.3 985.0ZM260.9 947.9L251.2 939.6L247.8 943.5L257.6 951.9ZM245.3 946.4L235.6 937.8L233.9 939.7L243.6 948.4ZM233.5 960.0L223.5 951.2L221.8 953.1L231.8 961.9Z"/>
<path fill="#12c41c" stroke="#12c41c" stroke-width="0.5" stroke-linejoin="round" d="M810.2 1023.4L799.1 1024.6L799.2 1025.9L810.4 1024.7ZM797.7 1011.9L786.8 1012.9L787.0 1015.5L798.0 1014.4ZM800.1 1034.9L788.8 1036.0L789.0 1038.5L800.4 1037.4ZM786.7 1011.6L775.8 1012.5L776.0 1015.1L786.9 1014.2ZM787.6 1021.9L776.5 1022.8L776.8 1027.9L788.0 1027.0ZM788.4 1030.8L777.1 1031.7L777.2 1033.0L788.5 1032.1ZM776.6 1024.0L765.4 1024.7L765.6 1027.3L776.8 1026.6ZM746.3 659.0L741.5 659.2L741.7 663.1L746.5 662.8ZM746.6 665.4L741.7 665.6L742.0 672.0L747.0 671.8ZM741.6 661.8L736.8 661.9L736.9 664.5L741.7 664.3ZM741.8 666.9L736.9 667.0L736.9 669.6L741.9 669.5ZM736.6 651.6L732.0 651.7L732.0 654.2L736.7 654.2ZM732.0 646.5L727.5 646.5L727.4 650.3L732.0 650.4ZM727.4 650.3L722.8 650.2L722.7 652.8L727.3 652.9ZM727.3 655.5L722.6 655.3L722.5 657.9L727.3 658.0ZM722.9 647.6L718.3 647.4L718.0 653.9L722.7 654.1ZM559.5 917.3L550.3 914.2L549.5 916.7L558.7 919.8ZM558.3 921.0L549.0 917.9L548.6 919.1L557.9 922.2ZM553.6 904.5L544.6 901.3L543.7 903.7L552.8 906.9ZM541.5 909.8L532.4 906.4L530.6 911.2L539.8 914.6ZM531.0 938.7L521.4 935.2L520.9 936.4L530.6 940.0ZM524.4 956.9L514.5 953.2L514.0 954.4L524.0 958.1ZM523.5 959.3L513.6 955.5L512.2 959.1L522.2 962.9ZM517.8 975.0L507.6 971.1L506.7 973.5L516.9 977.4ZM532.9 905.2L523.9 901.6L522.9 904.0L532.0 907.6ZM520.5 937.6L510.9 933.8L510.4 935.0L520.0 938.8ZM515.4 950.8L505.6 946.9L505.1 948.1L514.9 952.0ZM519.9 886.1L511.3 882.3L510.7 883.5L519.4 887.3ZM480.8 978.3L470.5 973.9L470.0 975.0L480.3 979.5ZM485.1 941.0L475.5 936.6L474.4 938.9L484.1 943.3ZM469.4 976.2L459.2 971.5L458.1 973.9L468.4 978.6ZM501.6 880.7L493.0 876.6L491.8 878.9L500.5 883.0ZM473.6 872.5L465.1 867.9L462.7 872.4L471.2 877.0ZM470.0 879.3L461.4 874.7L460.2 876.9L468.8 881.6ZM461.4 874.7L452.9 869.9L451.6 872.1L460.2 876.9ZM458.9 879.2L450.4 874.3L447.8 878.8L456.4 883.6ZM452.7 890.4L443.9 885.4L442.7 887.7L451.4 892.6ZM450.2 894.9L441.4 889.9L440.1 892.1L449.0 897.1ZM369.8 1039.9L358.5 1033.4L357.2 1035.7L368.6 1042.1ZM366.1 1046.6L354.6 1040.1L354.0 1041.2L365.5 1047.7ZM453.6 868.7L445.2 863.8L443.9 866.0L452.3 871.0ZM449.7 875.4L441.2 870.4L440.6 871.5L449.1 876.5ZM448.4 877.6L439.9 872.6L438.6 874.8L447.1 879.9ZM357.2 1035.7L345.9 1029.0L345.3 1030.1L356.6 1036.8ZM352.7 1043.5L341.3 1036.7L340.6 1037.8L352.1 1044.6ZM440.6 871.5L432.1 866.4L430.8 868.5L439.2 873.7ZM384.3 965.1L374.3 959.0L373.6 960.1L383.7 966.2ZM377.0 977.3L366.8 971.0L365.4 973.2L375.7 979.5ZM373.1 983.9L362.7 977.5L361.3 979.7L371.7 986.1ZM343.9 1032.3L332.7 1025.5L331.4 1027.6L342.6 1034.5ZM340.0 1038.9L328.6 1032.0L328.0 1033.1L339.3 1040.0ZM363.4 976.4L353.1 969.9L351.7 972.1L362.0 978.6ZM350.2 952.6L340.4 945.8L338.9 947.9L348.8 954.7ZM322.2 994.1L311.6 986.9L310.9 987.9L321.5 995.2ZM308.7 991.1L298.2 983.6L296.7 985.7L307.2 993.2ZM304.3 997.4L293.7 989.8L292.9 990.9L303.5 998.4ZM323.1 949.3L313.4 942.1L311.0 945.1L320.9 952.4ZM295.2 987.7L284.7 980.0L282.4 983.1L292.9 990.9ZM291.4 992.9L280.9 985.2L280.1 986.2L290.6 994.0ZM286.9 999.2L276.2 991.3L274.7 993.4L285.4 1001.3ZM310.3 946.2L300.6 938.7L299.0 940.7L308.7 948.2ZM261.8 988.3L251.4 980.0L249.7 982.0L260.2 990.4ZM284.5 939.1L274.9 931.2L273.3 933.2L282.9 941.1ZM281.3 943.1L271.6 935.1L270.0 937.1L279.7 945.1ZM276.4 949.1L266.7 941.0L265.0 943.0L274.8 951.1ZM252.2 979.0L241.9 970.6L238.6 974.5L248.9 983.0ZM241.9 950.3L232.1 941.7L230.4 943.6L240.2 952.2ZM238.5 954.2L228.7 945.5L227.0 947.4L236.8 956.1Z"/>
<path fill="#12b41c" stroke="#12b41c" stroke-width="0.5" stroke-linejoin="round" d="M797.5 1009.3L786.6 1010.4L786.8 1012.9L797.7 1011.9ZM798.0 1014.4L787.0 1015.5L787.6 1021.9L798.7 1020.8ZM798.8 1022.1L787.7 1023.2L788.8 1036.0L800.1 1034.9ZM800.4 1037.4L789.0 1038.5L789.2 1039.8L800.5 1038.7ZM787.1 1016.8L776.1 1017.6L776.5 1022.8L787.6 1021.9ZM788.0 1027.0L776.8 1027.9L777.1 1031.7L788.4 1030.8ZM746.5 662.8L741.7 663.1L741.7 665.6L746.6 665.4ZM732.0 652.9L727.3 652.9L727.2 660.6L732.0 660.6ZM727.4 647.8L722.9 647.6L722.8 650.2L727.4 650.3ZM727.3 652.9L722.7 652.8L722.6 655.3L727.3 655.5ZM727.2 660.6L722.4 660.5L722.3 663.1L727.2 663.2ZM722.7 654.1L718.0 653.9L717.9 656.4L722.6 656.6ZM557.9 922.2L548.6 919.1L548.2 920.3L557.5 923.4ZM550.8 944.2L541.1 941.0L540.7 942.2L550.4 945.4ZM552.8 906.9L543.7 903.7L542.9 906.1L552.0 909.4ZM541.1 941.0L531.4 937.5L530.6 940.0L540.2 943.4ZM539.8 914.6L530.6 911.2L530.1 912.4L539.3 915.8ZM538.0 919.4L528.8 916.0L527.8 918.4L537.2 921.8ZM531.4 937.5L521.9 934.0L521.4 935.2L531.0 938.7ZM522.2 962.9L512.2 959.1L511.7 960.3L521.8 964.1ZM521.3 965.3L511.3 961.5L510.3 963.9L520.5 967.7ZM518.7 972.6L508.5 968.7L507.6 971.1L517.8 975.0ZM531.5 908.8L522.4 905.2L521.0 908.8L530.1 912.4ZM524.6 926.8L515.2 923.1L514.3 925.4L523.7 929.2ZM513.6 955.5L503.7 951.7L503.2 952.8L513.1 956.7ZM503.9 980.7L493.6 976.7L492.6 979.1L503.0 983.1ZM526.8 894.5L517.9 890.8L514.9 897.9L523.9 901.6ZM522.9 904.0L513.9 900.3L512.9 902.6L522.0 906.4ZM514.3 925.4L504.9 921.6L502.9 926.3L512.3 930.2ZM508.5 939.7L498.9 935.8L496.8 940.5L506.6 944.5ZM503.7 951.7L493.8 947.6L492.8 949.9L502.7 954.0ZM491.6 981.4L481.3 977.2L480.3 979.5L490.7 983.8ZM519.4 887.3L510.7 883.5L509.7 885.8L518.4 889.6ZM497.4 939.3L487.7 935.1L485.6 939.8L495.3 944.0ZM493.3 948.8L483.6 944.5L480.4 951.6L490.3 955.9ZM510.7 883.5L502.1 879.5L501.6 880.7L510.2 884.6ZM509.2 887.0L500.5 883.0L498.3 887.7L507.1 891.7ZM503.9 898.7L495.0 894.7L493.9 897.0L502.9 901.1ZM499.8 908.1L490.7 904.0L489.6 906.3L498.7 910.5ZM495.6 917.5L486.3 913.3L484.2 918.0L493.5 922.2ZM489.3 931.6L479.8 927.3L477.7 931.9L487.2 936.3ZM486.7 937.5L477.1 933.1L475.5 936.6L485.1 941.0ZM473.6 966.8L463.5 962.2L462.5 964.5L472.6 969.2ZM470.5 973.9L460.3 969.2L459.2 971.5L469.4 976.2ZM467.4 980.9L457.0 976.2L455.9 978.5L466.3 983.3ZM500.5 883.0L491.8 878.9L490.7 881.2L499.4 885.4ZM498.3 887.7L489.6 883.5L488.5 885.8L497.2 890.0ZM496.1 892.3L487.3 888.1L482.8 897.4L491.8 901.7ZM490.7 904.0L481.7 899.7L481.1 900.9L490.1 905.2ZM482.0 922.6L472.7 918.2L469.3 925.1L478.7 929.6ZM477.7 931.9L468.2 927.4L467.6 928.6L477.1 933.1ZM480.0 903.2L471.0 898.7L466.4 907.8L475.5 912.4ZM460.2 876.9L451.6 872.1L450.4 874.3L458.9 879.2ZM456.4 883.6L447.8 878.8L445.2 883.2L453.9 888.1ZM366.7 1045.5L355.3 1039.0L354.6 1040.1L366.1 1046.6ZM452.3 871.0L443.9 866.0L441.2 870.4L449.7 875.4ZM359.1 1032.3L347.9 1025.7L345.9 1029.0L357.2 1035.7ZM353.3 1042.3L342.0 1035.6L341.3 1036.7L352.7 1043.5ZM381.0 970.7L370.9 964.4L366.8 971.0L377.0 977.3ZM375.7 979.5L365.4 973.2L364.1 975.3L374.4 981.7ZM373.7 982.8L363.4 976.4L362.7 977.5L373.1 983.9ZM342.6 1034.5L331.4 1027.6L328.6 1032.0L340.0 1038.9ZM362.0 978.6L351.7 972.1L351.0 973.1L361.3 979.7ZM347.3 956.8L337.4 950.0L330.8 959.5L340.9 966.4ZM324.3 990.9L313.8 983.7L312.4 985.8L322.9 993.0ZM340.4 945.8L330.7 938.9L329.9 939.9L339.6 946.9ZM338.2 949.0L328.4 942.0L327.7 943.0L337.4 950.0ZM329.3 961.6L319.3 954.5L318.6 955.5L328.6 962.6ZM316.1 980.5L305.7 973.2L304.2 975.3L314.6 982.6ZM309.4 990.0L298.9 982.5L298.2 983.6L308.7 991.1ZM307.2 993.2L296.7 985.7L295.2 987.7L305.7 995.3ZM320.9 952.4L311.0 945.1L308.7 948.2L318.6 955.5ZM317.1 957.6L307.2 950.3L297.9 962.6L308.0 970.1ZM292.9 990.9L282.4 983.1L280.9 985.2L291.4 992.9ZM290.6 994.0L280.1 986.2L279.3 987.2L289.9 995.0ZM285.4 1001.3L274.7 993.4L273.9 994.4L284.6 1002.3ZM308.7 948.2L299.0 940.7L297.4 942.8L307.2 950.3ZM297.9 962.6L287.9 954.9L286.3 956.9L296.3 964.6ZM282.4 983.1L272.1 975.2L267.3 981.2L277.8 989.3ZM276.2 991.3L265.8 983.3L262.6 987.3L273.1 995.4ZM298.2 941.8L288.6 934.1L286.1 937.1L295.8 944.8ZM282.9 941.1L273.3 933.2L271.6 935.1L281.3 943.1ZM279.7 945.1L270.0 937.1L266.7 941.0L276.4 949.1ZM273.2 953.1L263.4 945.0L254.3 955.8L264.3 964.1ZM257.6 951.9L247.8 943.5L245.3 946.4L255.1 954.8ZM254.3 955.8L244.4 947.4L242.7 949.3L252.6 957.8ZM241.9 970.6L231.8 961.9L229.3 964.8L239.4 973.5ZM240.2 952.2L230.4 943.6L228.7 945.5L238.5 954.2ZM236.8 956.1L227.0 947.4L223.5 951.2L233.5 960.0Z"/>
<path fill="#12a018" stroke="#12a018" stroke-width="0.5" stroke-linejoin="round" d="M798.7 1020.8L787.6 1021.9L787.7 1023.2L798.8 1022.1ZM552.0 909.4L542.9 906.1L541.1 911.0L550.3 914.2ZM549.5 916.7L540.2 913.4L538.9 917.0L548.2 920.3ZM542.4 907.4L533.4 904.0L532.4 906.4L541.5 909.8ZM539.3 915.8L530.1 912.4L528.8 916.0L538.0 919.4ZM521.8 964.1L511.7 960.3L511.3 961.5L521.3 965.3ZM520.5 967.7L510.3 963.9L508.5 968.7L518.7 972.6ZM530.1 912.4L521.0 908.8L520.0 911.1L529.2 914.8ZM528.3 917.2L519.1 913.5L516.2 920.7L525.5 924.4ZM520.9 936.4L511.4 932.6L510.9 933.8L520.5 937.6ZM514.9 952.0L505.1 948.1L503.7 951.7L513.6 955.5ZM513.1 956.7L503.2 952.8L502.7 954.0L512.6 957.9ZM523.9 901.6L514.9 897.9L513.9 900.3L522.9 904.0ZM522.0 906.4L512.9 902.6L504.9 921.6L514.3 925.4ZM512.3 930.2L502.9 926.3L498.9 935.8L508.5 939.7ZM505.6 946.9L495.8 942.8L493.8 947.6L503.7 951.7ZM502.7 954.0L492.8 949.9L490.8 954.7L500.8 958.8ZM514.4 899.1L505.5 895.2L501.3 904.6L510.4 908.5ZM505.4 920.4L496.1 916.3L493.0 923.4L502.4 927.5ZM501.4 929.8L491.9 925.7L490.9 928.1L500.4 932.2ZM498.4 936.9L488.8 932.8L487.7 935.1L497.4 939.3ZM495.3 944.0L485.6 939.8L483.6 944.5L493.3 948.8ZM490.3 955.9L480.4 951.6L478.9 955.1L488.8 959.4ZM482.3 974.8L472.1 970.3L470.5 973.9L480.8 978.3ZM510.2 884.6L501.6 880.7L500.5 883.0L509.2 887.0ZM507.1 891.7L498.3 887.7L495.0 894.7L503.9 898.7ZM502.9 901.1L493.9 897.0L490.7 904.0L499.8 908.1ZM497.7 912.8L488.5 908.6L487.4 911.0L496.6 915.2ZM493.5 922.2L484.2 918.0L482.0 922.6L491.4 926.9ZM490.4 929.3L480.9 925.0L479.8 927.3L489.3 931.6ZM487.2 936.3L477.7 931.9L477.1 933.1L486.7 937.5ZM475.7 962.1L465.7 957.6L463.5 962.2L473.6 966.8ZM472.6 969.2L462.5 964.5L460.3 969.2L470.5 973.9ZM468.4 978.6L458.1 973.9L457.0 976.2L467.4 980.9ZM499.4 885.4L490.7 881.2L489.6 883.5L498.3 887.7ZM497.2 890.0L488.5 885.8L487.3 888.1L496.1 892.3ZM491.8 901.7L482.8 897.4L481.7 899.7L490.7 904.0ZM490.1 905.2L481.1 900.9L480.6 902.0L489.6 906.3ZM488.5 908.6L479.4 904.3L478.3 906.6L487.4 911.0ZM486.3 913.3L477.2 908.9L473.8 915.9L483.1 920.3ZM482.5 921.5L473.2 917.0L472.7 918.2L482.0 922.6ZM478.7 929.6L469.3 925.1L468.2 927.4L477.7 931.9ZM356.6 1036.8L345.3 1030.1L342.0 1035.6L353.3 1042.3ZM352.1 1044.6L340.6 1037.8L339.3 1040.0L350.8 1046.8ZM374.4 981.7L364.1 975.3L363.4 976.4L373.7 982.8ZM331.5 980.2L321.2 973.2L316.8 979.5L327.2 986.6ZM325.8 988.8L315.3 981.6L313.8 983.7L324.3 990.9ZM322.9 993.0L312.4 985.8L311.6 986.9L322.2 994.1ZM339.6 946.9L329.9 939.9L328.4 942.0L338.2 949.0ZM337.4 950.0L327.7 943.0L319.3 954.5L329.3 961.6ZM314.6 982.6L304.2 975.3L298.9 982.5L309.4 990.0ZM318.6 955.5L308.7 948.2L307.2 950.3L317.1 957.6ZM289.9 995.0L279.3 987.2L276.2 991.3L286.9 999.2ZM307.2 950.3L297.4 942.8L295.8 944.8L305.6 952.3ZM304.1 954.4L294.2 946.8L292.7 948.8L302.5 956.4ZM301.0 958.5L291.1 950.9L287.9 954.9L297.9 962.6ZM283.2 982.1L272.9 974.2L272.1 975.2L282.4 983.1ZM295.8 944.8L286.1 937.1L285.3 938.1L295.0 945.8ZM291.9 949.9L282.1 942.1L275.6 950.1L285.5 958.0ZM283.9 960.0L274.0 952.1L272.4 954.1L282.4 962.0ZM280.8 964.0L270.8 956.1L269.2 958.1L279.2 966.1ZM262.6 987.3L252.2 979.0L251.4 980.0L261.8 988.3ZM274.8 951.1L265.0 943.0L263.4 945.0L273.2 953.1ZM253.8 977.0L243.6 968.6L241.9 970.6L252.2 979.0ZM255.1 954.8L245.3 946.4L244.4 947.4L254.3 955.8ZM252.6 957.8L242.7 949.3L241.1 951.3L251.0 959.7ZM249.3 961.7L239.4 953.2L231.8 961.9L241.9 970.6Z"/>
<path fill="#0e8c16" stroke="#0e8c16" stroke-width="0.5" stroke-linejoin="round" d="M550.3 914.2L541.1 911.0L540.2 913.4L549.5 916.7ZM529.2 914.8L520.0 911.1L519.1 913.5L528.3 917.2ZM506.6 944.5L496.8 940.5L495.8 942.8L505.6 946.9ZM518.4 889.6L509.7 885.8L505.5 895.2L514.4 899.1ZM510.4 908.5L501.3 904.6L496.1 916.3L505.4 920.4ZM502.4 927.5L493.0 923.4L491.9 925.7L501.4 929.8ZM500.4 932.2L490.9 928.1L488.8 932.8L498.4 936.9ZM498.7 910.5L489.6 906.3L488.5 908.6L497.7 912.8ZM496.6 915.2L487.4 911.0L486.3 913.3L495.6 917.5ZM491.4 926.9L482.0 922.6L480.9 925.0L490.4 929.3ZM489.6 906.3L480.6 902.0L479.4 904.3L488.5 908.6ZM487.4 911.0L478.3 906.6L477.2 908.9L486.3 913.3ZM483.1 920.3L473.8 915.9L473.2 917.0L482.5 921.5ZM327.2 986.6L316.8 979.5L315.3 981.6L325.8 988.8ZM305.6 952.3L295.8 944.8L294.2 946.8L304.1 954.4ZM302.5 956.4L292.7 948.8L291.1 950.9L301.0 958.5ZM277.8 989.3L267.3 981.2L265.8 983.3L276.2 991.3ZM295.0 945.8L285.3 938.1L282.1 942.1L291.9 949.9ZM285.5 958.0L275.6 950.1L274.0 952.1L283.9 960.0ZM282.4 962.0L272.4 954.1L270.8 956.1L280.8 964.0ZM263.4 986.3L253.0 978.0L252.2 979.0L262.6 987.3ZM251.0 959.7L241.1 951.3L239.4 953.2L249.3 961.7Z"/>
<path fill="#0c7812" stroke="#0c7812" stroke-width="0.5" stroke-linejoin="round" d="M556.4 927.1L546.9 923.9L546.1 926.4L555.6 929.5ZM551.6 941.8L541.9 938.5L541.1 941.0L550.8 944.2ZM537.2 921.8L527.8 918.4L526.9 920.8L536.3 924.3ZM534.5 929.1L525.1 925.6L521.9 934.0L531.4 937.5ZM525.5 924.4L516.2 920.7L515.2 923.1L524.6 926.8ZM512.6 957.9L502.7 954.0L501.7 956.4L511.7 960.3ZM506.2 974.7L496.0 970.7L495.0 973.1L505.3 977.1ZM504.4 979.5L494.0 975.5L493.6 976.7L503.9 980.7ZM492.1 980.2L481.8 976.0L481.3 977.2L491.6 981.4ZM488.8 959.4L478.9 955.1L477.3 958.6L487.3 963.0ZM486.3 965.3L476.2 960.9L475.2 963.3L485.3 967.7ZM335.8 973.9L325.6 966.9L324.2 969.0L334.4 976.0ZM332.9 978.1L322.7 971.1L321.2 973.2L331.5 980.2ZM328.6 962.6L318.6 955.5L317.8 956.6L327.8 963.7ZM326.4 965.8L316.3 958.6L311.8 964.9L321.9 972.1ZM319.0 976.3L308.8 969.0L305.7 973.2L316.1 980.5ZM306.5 972.1L296.3 964.6L293.3 968.7L303.5 976.3ZM302.0 978.4L291.7 970.8L290.2 972.8L300.5 980.5ZM297.4 984.6L287.1 976.9L284.7 980.0L295.2 987.7ZM293.3 968.7L283.2 961.0L280.0 965.0L290.2 972.8Z"/>
<path fill="#086010" stroke="#086010" stroke-width="0.5" stroke-linejoin="round" d="M557.5 923.4L548.2 920.3L546.9 923.9L556.4 927.1ZM555.6 929.5L546.1 926.4L541.9 938.5L551.6 941.8ZM548.2 920.3L538.9 917.0L535.8 925.5L545.3 928.8ZM542.8 936.1L533.2 932.7L531.4 937.5L541.1 941.0ZM536.3 924.3L526.9 920.8L525.1 925.6L534.5 929.1ZM511.7 960.3L501.7 956.4L500.3 960.0L510.3 963.9ZM507.1 972.3L496.9 968.3L496.0 970.7L506.2 974.7ZM505.3 977.1L495.0 973.1L494.0 975.5L504.4 979.5ZM493.1 977.9L482.8 973.6L481.8 976.0L492.1 980.2ZM487.3 963.0L477.3 958.6L476.2 960.9L486.3 965.3ZM483.3 972.4L473.1 968.0L472.1 970.3L482.3 974.8ZM340.9 966.4L330.8 959.5L327.1 964.7L337.3 971.7ZM320.5 974.2L310.3 966.9L308.8 969.0L319.0 976.3ZM308.0 970.1L297.9 962.6L296.3 964.6L306.5 972.1ZM303.5 976.3L293.3 968.7L291.7 970.8L302.0 978.4ZM300.5 980.5L290.2 972.8L287.1 976.9L297.4 984.6ZM296.3 964.6L286.3 956.9L283.2 961.0L293.3 968.7ZM290.2 972.8L280.0 965.0L275.2 971.1L285.5 979.0ZM284.0 981.1L273.7 973.1L272.9 974.2L283.2 982.1ZM279.2 966.1L269.2 958.1L267.5 960.1L277.6 968.1ZM276.0 970.1L265.9 962.1L265.1 963.1L275.2 971.1Z"/>
<path fill="#457c0c" stroke="#457c0c" stroke-width="0.5" stroke-linejoin="round" d="M545.3 928.8L535.8 925.5L535.0 927.9L544.4 931.2ZM337.3 971.7L327.1 964.7L325.6 966.9L335.8 973.9ZM334.4 976.0L324.2 969.0L322.7 971.1L332.9 978.1ZM327.8 963.7L317.8 956.6L316.3 958.6L326.4 965.8ZM321.9 972.1L311.8 964.9L310.3 966.9L320.5 974.2ZM285.5 979.0L275.2 971.1L273.7 973.1L284.0 981.1ZM277.6 968.1L267.5 960.1L265.9 962.1L276.0 970.1Z"/>
<path fill="#b0b00c" stroke="#b0b00c" stroke-width="0.5" stroke-linejoin="round" d="M544.4 931.2L535.0 927.9L533.2 932.7L542.8 936.1ZM523.7 929.2L514.3 925.4L513.3 927.8L522.8 931.6ZM521.9 934.0L512.3 930.2L511.4 932.6L520.9 936.4ZM485.3 967.7L475.2 963.3L473.1 968.0L483.3 972.4Z"/>
<path fill="#ffd800" stroke="#ffd800" stroke-width="0.5" stroke-linejoin="round" d="M522.8 931.6L513.3 927.8L512.3 930.2L521.9 934.0ZM255.4 975.0L245.2 966.6L243.6 968.6L253.8 977.0Z"/>
<path fill="#ffb400" stroke="#ffb400" stroke-width="0.5" stroke-linejoin="round" d="M509.9 965.1L499.8 961.2L498.9 963.6L509.0 967.5ZM508.0 969.9L497.9 965.9L496.9 968.3L507.1 972.3ZM500.8 958.8L490.8 954.7L487.8 961.8L497.9 965.9ZM496.9 968.3L486.8 964.1L485.8 966.5L496.0 970.7ZM494.0 975.5L483.8 971.2L482.8 973.6L493.1 977.9ZM274.5 972.1L264.3 964.1L262.7 966.1L272.9 974.2ZM269.7 978.2L259.5 970.0L256.2 974.0L266.5 982.3ZM264.3 964.1L254.3 955.8L251.8 958.8L261.9 967.1ZM260.3 969.0L250.2 960.7L248.5 962.7L258.6 971.0ZM257.0 973.0L246.9 964.7L245.2 966.6L255.4 975.0Z"/>
<path fill="#ff9a00" stroke="#ff9a00" stroke-width="0.5" stroke-linejoin="round" d="M510.3 963.9L500.3 960.0L499.8 961.2L509.9 965.1ZM509.0 967.5L498.9 963.6L497.9 965.9L508.0 969.9ZM497.9 965.9L487.8 961.8L486.8 964.1L496.9 968.3ZM496.0 970.7L485.8 966.5L483.8 971.2L494.0 975.5ZM275.2 971.1L265.1 963.1L264.3 964.1L274.5 972.1ZM272.9 974.2L262.7 966.1L261.1 968.0L271.3 976.2ZM266.5 982.3L256.2 974.0L253.0 978.0L263.4 986.3ZM261.9 967.1L251.8 958.8L250.2 960.7L260.3 969.0ZM258.6 971.0L248.5 962.7L246.9 964.7L257.0 973.0Z"/>
<path fill="#ff8000" stroke="#ff8000" stroke-width="0.5" stroke-linejoin="round" d="M271.3 976.2L261.1 968.0L259.5 970.0L269.7 978.2Z"/>
<path fill="#58a8d4" stroke="#58a8d4" stroke-width="0.6" d="M450.0 1020.0L455.9 1014.0L466.6 1018.0L459.9 1035.3L449.3 1030.6Z"/>
<path fill="#4c7cb4" stroke="#4c7cb4" stroke-width="0.6" d="M455.9 1014.0L478.6 1021.3L476.6 1026.6L465.9 1022.6L466.6 1018.0Z"/>
<path fill="#5a9ec8" stroke="#5a9ec8" stroke-width="0.6" d="M465.9 1022.6L476.6 1026.6L474.6 1031.9L462.6 1028.0Z"/>
<path fill="#4460a2" stroke="#4460a2" stroke-width="0.6" d="M462.6 1028.0L474.6 1031.9L471.9 1039.9L459.9 1035.3Z"/>
<path fill="#4a64a4" stroke="#4a64a4" stroke-width="0.6" d="M440.6 1017.4L442.0 1017.0L451.9 1021.3L451.3 1022.6Z"/>
<path fill="#4a64a4" stroke="#4a64a4" stroke-width="0.6" d="M438.0 1024.6L440.0 1023.0L450.0 1028.0L449.3 1029.6Z"/>
<path fill="#4c78b2" stroke="#4c78b2" stroke-width="0.6" d="M189.0 901.5L191.6 899.6L210.0 917.3L207.8 920.0Z"/>
<path fill="#5a6ea6" stroke="#5a6ea6" stroke-width="0.6" d="M587.4 179.0L592.4 178.2L593.3 181.5L598.3 180.7L600.0 185.7L595.8 186.9L594.1 184.0L590.0 184.0Z"/>
<path fill="#5a6ea6" stroke="#5a6ea6" stroke-width="0.6" d="M584.1 254.1L586.6 250.0L590.8 247.0L591.6 252.5L588.3 256.6L585.8 256.3Z"/></g>
<path d="M578.3,46.3C578.7,46.9 581.4,49.7 581.9,50.8C582.5,51.9 582.5,54.0 582.9,55.0C583.4,56.0 585.1,57.8 585.8,58.7C586.5,59.5 588.0,60.8 588.6,61.6C589.2,62.5 589.8,64.8 590.3,65.8C590.8,66.8 592.1,68.7 592.4,69.6C592.8,70.6 592.9,72.5 593.3,73.3C593.6,74.1 595.5,75.2 595.3,75.8C595.0,76.4 591.4,77.2 591.3,78.0C591.1,78.7 593.3,80.8 594.1,81.6C594.9,82.5 597.2,83.8 597.4,84.6C597.6,85.5 595.5,88.4 595.8,88.3C596.1,88.2 598.7,84.7 599.9,84.1C601.2,83.6 604.4,84.0 605.8,84.1C607.1,84.2 609.5,84.5 610.8,85.0C612.0,85.4 614.5,87.1 615.8,87.5C617.0,87.8 619.5,87.6 620.7,87.5C622.0,87.3 624.8,86.2 625.7,86.3C626.7,86.4 628.2,87.6 628.6,88.3C629.0,89.0 629.3,90.7 629.1,91.6C628.8,92.6 627.3,94.9 626.6,95.8C625.8,96.7 624.0,98.3 623.2,99.1C622.5,100.0 621.0,101.6 620.7,102.4C620.5,103.3 621.6,105.1 621.2,105.8C620.9,106.5 619.3,107.5 618.3,107.9C617.3,108.4 614.2,108.4 613.3,109.1C612.3,109.8 611.6,112.3 610.8,113.3C609.9,114.3 607.6,115.9 606.6,116.9C605.6,118.0 603.7,120.6 602.4,121.6C601.2,122.6 597.7,124.1 596.6,124.9C595.5,125.8 593.8,127.2 593.6,128.3C593.4,129.3 594.7,132.1 594.9,133.3C595.1,134.4 594.7,136.6 595.3,137.4C595.9,138.3 598.8,139.4 599.6,139.9C600.4,140.5 601.8,141.3 601.6,141.9C601.4,142.5 598.4,144.1 598.3,144.9C598.2,145.7 599.8,147.6 600.8,148.2C601.7,148.9 604.8,149.1 605.8,149.9C606.7,150.7 607.6,153.7 608.3,154.9C608.9,156.2 610.2,158.8 610.8,159.9C611.3,161.0 611.7,163.9 612.4,164.1C613.2,164.2 615.5,161.8 616.6,161.2C617.6,160.7 619.8,159.9 620.7,159.9C621.7,159.9 623.1,161.7 624.1,161.6C625.0,161.4 627.1,158.7 628.2,158.6C629.4,158.4 632.0,159.8 633.2,160.2C634.5,160.7 637.0,162.4 638.2,162.4C639.5,162.4 642.1,160.1 643.2,160.2C644.4,160.4 646.2,162.7 647.4,163.6C648.5,164.5 650.9,166.8 652.4,167.4C653.8,168.0 658.7,168.0 659.1,168.6C659.4,169.1 655.8,170.6 655.2,171.6C654.7,172.6 654.4,175.5 654.6,176.6C654.7,177.6 656.4,179.4 656.6,180.2C656.7,181.0 655.3,182.5 655.7,183.2C656.1,184.0 658.5,185.7 659.9,186.2C661.2,186.7 665.5,186.5 666.5,187.4C667.6,188.3 668.0,191.7 668.2,193.2C668.5,194.7 668.8,197.6 668.5,199.0C668.3,200.5 667.0,203.5 666.5,204.9C666.1,206.2 665.0,208.7 664.9,209.9C664.8,211.0 666.0,212.8 665.7,214.0C665.5,215.3 662.9,219.9 662.9,220.0C662.9,220.1 665.8,215.0 665.7,215.0C665.6,215.0 663.1,218.7 662.4,220.0C661.7,221.2 661.0,223.7 660.2,225.0C659.4,226.3 656.1,229.2 656.2,230.3C656.3,231.5 659.6,233.2 660.7,234.2C661.8,235.1 664.1,237.2 664.9,238.3C665.6,239.4 665.7,242.0 666.5,243.0C667.4,243.9 670.3,244.9 671.5,245.8C672.8,246.7 675.5,248.8 676.5,250.0C677.6,251.1 679.4,253.7 679.9,255.0C680.3,256.2 680.0,258.9 679.9,260.0C679.7,261.0 679.9,263.0 679.0,263.6C678.2,264.3 674.4,264.4 673.2,265.0C671.9,265.5 670.2,267.7 669.0,268.3C667.9,268.9 664.7,269.3 664.0,270.0C663.3,270.6 663.9,273.5 663.5,273.6C663.1,273.7 661.6,271.5 660.7,270.8C659.8,270.1 657.5,268.7 656.5,268.0C655.6,267.2 653.9,265.6 653.2,265.0C652.5,264.3 651.5,263.0 650.7,263.0C649.9,262.9 647.5,264.3 646.5,264.6C645.6,265.0 643.4,265.0 642.9,265.8C642.4,266.6 642.9,269.9 642.4,270.8C641.9,271.7 639.6,272.3 639.1,273.3C638.5,274.2 638.7,277.2 638.2,278.3C637.7,279.3 635.3,280.7 634.9,281.6C634.5,282.5 634.9,284.8 635.2,285.8C635.5,286.8 637.6,288.6 637.4,289.6C637.1,290.6 633.8,293.2 633.2,294.1C632.6,295.0 633.2,296.2 632.4,296.6C631.6,297.0 627.6,297.0 626.6,296.9C625.5,296.9 625.1,296.0 624.1,296.3C623.0,296.5 619.6,298.5 618.2,299.1C616.9,299.7 614.5,300.3 613.2,300.8C612.0,301.2 609.2,301.8 608.2,302.4C607.2,303.1 605.8,304.7 605.2,305.8C604.7,306.8 604.7,309.8 604.1,310.8C603.4,311.7 601.2,313.1 599.9,313.6C598.7,314.1 594.7,314.2 594.1,314.9C593.5,315.6 595.3,318.2 594.9,319.1C594.5,319.9 591.2,321.0 590.8,321.6C590.3,322.2 590.6,323.5 591.3,324.1C591.9,324.7 594.9,325.6 595.8,326.6C596.6,327.5 598.0,330.3 598.3,331.6C598.5,332.8 597.8,335.3 597.9,336.6C598.0,337.8 598.8,340.4 599.1,341.6C599.3,342.7 600.2,345.0 599.9,345.7C599.6,346.5 597.6,347.2 596.6,347.4C595.5,347.5 592.8,346.6 591.6,346.9C590.3,347.2 587.6,349.7 586.6,349.9C585.6,350.1 583.9,347.8 583.3,348.2C582.6,348.6 581.6,352.2 581.6,353.2C581.6,354.3 583.2,355.7 583.3,356.5C583.4,357.4 582.9,359.2 582.4,359.9C582.0,360.6 579.5,362.0 579.6,362.4C579.7,362.8 582.4,362.9 583.3,363.2C584.1,363.5 585.9,364.1 586.3,364.9C586.6,365.6 586.3,368.2 585.8,369.0C585.2,369.9 582.3,370.8 581.6,371.5C580.9,372.3 580.3,373.9 579.9,374.9C579.5,375.8 578.4,378.0 578.3,379.0C578.1,380.1 578.8,382.2 578.6,383.2C578.4,384.2 577.0,386.3 576.9,387.4C576.9,388.4 578.3,390.6 578.3,391.5C578.3,392.5 577.0,395.2 576.9,395.0C576.8,394.8 577.7,390.0 577.4,390.0C577.1,390.0 575.0,393.7 574.6,395.0C574.2,396.2 574.3,398.6 574.1,400.0C573.9,401.3 573.1,404.8 573.3,405.8C573.5,406.9 576.0,407.5 575.8,408.3C575.6,409.2 572.2,411.5 571.6,412.5C571.0,413.4 570.9,415.2 571.3,415.8C571.7,416.4 574.3,416.7 574.9,417.5C575.6,418.2 576.1,420.6 576.6,421.6C577.1,422.7 578.4,424.7 578.6,425.8C578.8,426.9 577.8,429.8 577.9,430.8C578.1,431.8 579.3,433.5 579.9,434.1C580.6,434.8 583.5,435.2 583.3,435.8C583.1,436.4 578.5,438.3 578.3,439.1C578.1,440.0 580.9,441.6 581.6,442.5C582.3,443.3 584.1,444.9 584.1,445.8C584.1,446.7 581.8,449.1 581.6,450.0C581.4,450.8 582.0,451.8 582.4,452.4C582.8,453.1 584.1,454.3 584.9,454.9C585.8,455.6 588.2,457.0 589.1,457.4C590.0,457.9 592.2,457.7 592.4,458.3C592.7,458.9 591.3,461.3 591.3,462.4C591.3,463.6 592.0,466.3 592.4,467.4C592.9,468.6 594.5,470.6 594.9,471.6C595.3,472.6 595.3,475.7 595.8,475.8C596.2,475.9 597.8,473.4 598.3,472.4C598.7,471.5 598.8,468.0 599.1,467.9C599.4,467.8 600.4,470.5 600.7,471.6C601.1,472.7 601.3,475.7 601.6,476.6C601.9,477.5 602.7,479.2 603.2,479.1C603.8,479.0 604.9,476.0 605.7,475.8C606.6,475.6 609.1,476.8 609.9,477.4C610.7,478.1 611.7,479.8 611.9,480.8C612.1,481.7 611.1,484.0 611.2,484.9C611.4,485.9 613.3,487.3 613.2,488.3C613.2,489.2 610.5,491.4 610.7,492.4C610.9,493.5 614.6,495.5 614.9,496.6C615.3,497.6 613.5,499.6 613.6,500.7C613.7,501.9 615.2,504.7 615.7,505.7C616.3,506.8 617.5,508.3 618.2,509.1C619.0,509.8 620.8,510.8 621.6,511.6C622.3,512.3 623.3,514.1 624.1,514.9C624.8,515.7 626.5,517.6 627.4,518.2C628.3,518.9 630.5,519.6 631.6,519.9C632.6,520.2 634.9,520.1 635.7,520.7C636.6,521.3 637.5,524.3 638.2,524.9C638.9,525.5 640.8,525.8 641.5,525.7C642.3,525.6 643.5,523.7 644.0,524.1C644.6,524.4 645.8,527.1 646.2,528.2C646.6,529.4 647.2,531.9 647.4,533.2C647.6,534.6 647.6,537.8 647.9,539.0C648.2,540.2 649.2,542.6 649.9,542.9C650.6,543.2 652.9,542.2 653.5,541.5C654.2,540.9 654.3,538.1 654.9,537.4C655.5,536.6 657.1,535.9 658.2,535.7C659.3,535.5 663.0,535.3 664.0,535.7C665.1,536.1 665.8,538.1 666.5,539.0C667.3,540.0 668.9,542.1 669.9,543.2C670.8,544.4 673.1,547.1 674.0,548.2C675.0,549.3 676.3,551.7 677.4,552.4C678.4,553.0 681.3,553.0 682.4,553.3C683.6,553.6 685.8,554.1 686.6,554.6C687.4,555.2 688.5,557.8 689.1,558.0C689.7,558.2 690.7,556.5 691.6,556.3C692.5,556.1 695.5,557.0 696.6,556.6C697.6,556.3 699.1,554.0 699.9,553.3C700.7,552.6 702.4,551.2 703.2,551.3C704.1,551.4 705.8,553.5 706.6,554.1C707.3,554.8 708.0,556.2 709.1,556.6C710.1,557.1 713.9,557.2 714.9,557.5C715.9,557.8 717.0,558.4 717.4,559.1C717.8,559.9 717.9,562.7 718.2,563.3C718.5,563.9 719.5,564.6 719.9,564.1C720.3,563.7 721.5,560.9 721.6,560.0C721.7,559.0 720.5,557.2 720.7,556.6C720.9,556.1 722.5,555.5 723.2,555.8C723.9,556.1 725.9,558.3 726.2,559.1C726.5,560.0 726.2,561.6 725.7,562.5C725.2,563.3 723.3,565.1 722.4,565.8C721.5,566.5 719.1,567.8 718.2,568.3C717.4,568.8 715.8,569.5 715.7,570.0C715.6,570.4 716.7,571.5 717.4,572.0C718.1,572.4 720.9,573.1 721.2,573.6C721.5,574.2 720.4,575.5 719.9,576.1C719.4,576.8 717.4,578.0 717.4,578.6C717.4,579.2 719.3,580.2 719.9,580.8C720.5,581.4 721.9,582.6 722.1,583.3C722.3,584.0 722.0,586.0 721.6,586.6C721.1,587.3 719.1,588.2 718.2,588.6C717.4,589.1 715.1,589.6 714.6,590.3C714.0,591.0 713.9,592.7 713.9,594.1C713.9,595.5 714.8,600.1 714.6,601.6C714.3,603.1 711.4,604.7 712.1,605.8C712.7,606.8 718.4,609.7 719.6,609.9C720.7,610.1 722.0,608.1 721.4,607.4C720.8,606.7 715.3,604.5 714.9,604.4C714.6,604.4 718.3,605.9 718.6,606.9C718.9,607.9 718.1,611.4 717.4,612.4C716.7,613.4 714.4,613.8 713.2,614.9C712.1,616.1 709.9,620.2 708.2,621.6C706.6,622.9 701.3,624.7 699.9,625.8C698.6,626.8 698.1,628.9 697.4,629.9C696.7,631.0 695.0,633.0 694.1,634.1C693.2,635.1 690.8,637.3 689.9,638.2C689.0,639.2 686.7,641.1 686.9,641.9C687.1,642.7 691.1,644.0 691.6,644.9C692.1,645.8 691.1,647.9 690.8,649.1C690.4,650.2 689.5,652.7 689.1,654.1C688.7,655.4 687.8,658.5 687.4,659.9C687.0,661.2 686.5,663.6 685.8,664.9C685.0,666.1 682.5,668.6 681.6,669.9C680.7,671.1 679.1,673.8 678.3,674.9C677.4,675.9 675.9,677.7 674.9,678.2C674.0,678.7 671.7,678.4 670.8,679.0C669.8,679.7 667.5,682.1 667.4,683.2C667.3,684.4 670.0,687.3 669.9,688.2C669.8,689.1 667.6,690.0 666.6,690.7C665.6,691.4 662.1,693.3 661.9,694.2C661.8,695.0 664.8,696.8 665.8,697.5C666.8,698.2 669.3,699.2 669.9,700.0C670.6,700.8 671.0,703.0 670.8,704.2C670.6,705.3 669.1,708.0 668.3,709.2C667.4,710.3 664.9,712.3 664.1,713.3C663.3,714.4 661.8,716.2 661.6,717.5C661.4,718.7 662.1,721.8 662.4,723.3C662.8,724.8 663.8,727.6 664.1,729.1C664.5,730.7 665.1,734.0 665.3,735.8C665.4,737.6 665.3,741.5 665.3,743.3C665.2,745.1 665.0,748.2 664.9,750.0C664.9,751.7 664.2,756.8 664.6,757.4C665.0,758.1 667.0,755.3 668.3,754.9C669.6,754.6 673.5,755.2 674.9,754.9C676.4,754.7 678.8,753.7 679.9,752.9C681.1,752.2 683.2,749.2 684.1,748.6C685.0,748.0 686.6,747.8 687.4,748.3C688.3,748.8 689.7,751.7 690.8,752.4C691.8,753.2 694.6,753.8 695.8,754.1C696.9,754.4 698.9,754.1 699.9,754.6C701.0,755.1 703.0,757.4 704.1,758.3C705.1,759.2 707.1,761.3 708.2,761.9C709.4,762.6 712.2,762.8 713.2,763.3C714.3,763.8 715.6,764.9 716.6,765.8C717.5,766.6 719.7,769.2 720.7,769.9C721.8,770.7 723.9,771.6 724.9,771.9C725.9,772.2 728.1,771.8 729.1,772.4C730.0,773.0 731.6,775.6 732.4,776.6C733.2,777.6 735.9,779.9 735.7,780.8C735.5,781.6 731.7,782.4 730.7,783.3C729.7,784.1 728.0,786.4 727.9,787.4C727.8,788.5 729.1,790.7 729.9,791.6C730.7,792.4 733.0,793.4 734.1,794.1C735.1,794.8 737.2,797.0 738.2,797.4C739.3,797.8 741.3,797.0 742.4,797.4C743.4,797.8 745.9,799.6 746.5,800.7C747.2,801.9 746.9,805.5 747.4,806.6C747.9,807.6 750.2,808.1 750.7,809.1C751.2,810.0 751.7,812.9 751.5,814.1C751.3,815.2 749.8,817.6 749.0,818.2C748.3,818.9 746.4,819.4 745.7,819.1C745.0,818.7 744.0,816.0 743.2,815.7C742.4,815.4 739.7,815.9 739.1,816.6C738.4,817.2 737.6,819.7 737.9,820.7C738.2,821.8 740.7,824.1 741.5,824.9C742.4,825.7 744.0,826.9 744.9,827.4C745.7,827.9 747.6,828.4 748.2,829.1C748.8,829.7 750.0,831.4 749.9,832.4C749.8,833.3 747.2,835.6 747.4,836.5C747.6,837.5 750.5,838.8 751.5,839.9C752.6,840.9 754.5,843.8 755.7,844.9C756.9,845.9 759.6,847.4 760.8,848.3C762.1,849.3 764.6,851.3 765.8,852.5C767.1,853.6 770.0,856.5 770.8,857.5C771.6,858.4 771.6,859.7 772.5,860.0C773.3,860.2 777.1,859.0 777.5,859.6C777.9,860.3 776.2,863.7 775.8,865.0C775.4,866.3 774.2,868.8 774.1,870.0C774.0,871.1 774.3,873.7 775.0,874.1C775.6,874.5 778.1,873.0 779.1,873.3C780.2,873.6 783.2,875.5 783.6,876.6C784.1,877.8 782.8,881.0 783.0,882.4C783.1,883.9 784.5,886.9 784.6,888.3C784.8,889.6 783.8,892.2 784.1,893.3C784.5,894.3 786.4,896.4 787.5,896.6C788.5,896.8 791.3,895.4 792.5,894.9C793.6,894.5 795.9,892.9 796.6,893.3C797.3,893.7 798.0,897.1 798.3,898.3C798.6,899.4 799.4,901.4 799.1,902.4C798.8,903.5 796.6,905.4 795.8,906.6C795.0,907.7 792.6,910.2 792.5,911.6C792.4,912.9 794.1,916.1 795.0,917.4C795.8,918.8 798.2,921.4 799.1,922.4C800.1,923.4 801.4,925.0 802.4,925.2C803.5,925.5 806.2,924.2 807.4,924.1C808.7,923.9 811.1,924.3 812.4,924.1C813.8,923.9 816.9,922.2 818.3,922.4C819.6,922.6 821.9,924.9 823.3,925.7C824.6,926.6 827.7,928.3 829.1,929.1C830.4,929.8 832.9,931.1 834.1,931.6C835.2,932.1 837.2,933.1 838.3,932.9C839.3,932.7 842.0,930.9 842.4,929.9C842.9,928.9 841.9,926.2 841.9,924.9C841.9,923.7 841.8,920.7 842.4,919.9C843.0,919.1 845.8,918.8 846.6,918.3C847.3,917.7 848.2,916.7 848.2,915.8C848.2,914.8 847.1,911.9 846.6,910.8C846.1,909.6 844.4,907.7 844.1,906.6C843.8,905.4 844.7,902.7 844.1,901.6C843.5,900.5 839.2,898.4 839.1,897.4C839.0,896.5 842.2,894.8 843.2,894.1C844.3,893.4 846.4,891.8 847.4,891.9C848.5,892.0 850.5,894.3 851.6,894.9C852.6,895.6 854.7,896.9 855.7,897.4C856.8,898.0 858.9,899.2 859.9,899.1C860.9,899.0 863.0,897.4 864.1,896.9C865.1,896.5 867.5,896.3 868.2,895.8C869.0,895.2 868.9,892.9 869.9,892.4C870.9,892.0 875.4,891.9 876.6,892.4C877.7,893.0 878.3,895.6 879.1,896.6C879.8,897.6 881.7,899.9 882.4,900.8C883.1,901.6 883.9,903.4 884.9,903.3C885.8,903.1 888.7,899.7 889.9,899.6C891.0,899.5 893.0,901.7 894.0,902.4C895.1,903.2 897.2,904.8 898.2,905.8C899.2,906.7 901.3,909.3 902.4,909.9C903.4,910.5 905.4,910.7 906.5,910.8C907.7,910.8 910.9,909.6 911.5,910.3C912.1,910.9 911.7,914.3 911.5,915.8C911.3,917.2 910.0,920.2 909.9,921.6C909.8,922.9 910.3,925.3 910.7,926.6C911.1,927.8 912.6,930.2 913.2,931.6C913.8,932.9 915.2,935.9 915.7,937.4C916.1,938.9 916.7,941.8 916.9,943.2C917.0,944.7 916.7,948.1 916.5,949.1C916.3,950.0 915.2,950.0 915.3,950.6C915.4,951.2 916.6,953.4 917.3,953.9C918.0,954.5 919.8,954.9 920.6,954.9C921.5,954.8 923.4,954.0 923.9,953.3C924.5,952.6 924.6,950.1 925.0,949.3C925.4,948.4 926.6,947.1 927.3,946.6C928.0,946.1 929.9,945.6 930.6,945.3C931.3,944.9 932.8,944.6 933.0,943.9C933.3,943.3 932.9,940.6 932.6,939.9C932.3,939.3 931.0,939.2 930.6,938.6C930.2,938.0 929.4,936.1 929.3,935.3C929.1,934.4 929.1,932.4 929.5,931.9C930.0,931.4 931.8,931.6 932.6,931.3C933.4,931.0 935.1,929.6 935.9,929.5C936.8,929.5 938.6,930.2 939.3,930.6C939.9,931.0 941.4,931.9 941.3,932.6C941.1,933.3 938.4,935.1 937.9,935.9C937.5,936.8 937.1,939.3 937.5,939.7C938.0,940.0 940.3,938.9 941.3,938.6C942.2,938.3 944.5,937.2 945.3,937.3C946.0,937.4 946.8,938.5 947.3,939.3C947.7,940.0 948.0,942.4 948.6,943.3C949.2,944.1 951.1,945.3 951.9,945.9C952.8,946.5 954.5,947.4 955.3,947.9C956.0,948.5 957.4,950.5 957.9,950.3C958.4,950.2 958.8,947.2 959.3,946.6C959.8,946.0 961.2,945.5 961.9,945.3C962.7,945.0 964.5,944.8 965.2,944.6C966.0,944.4 967.2,943.6 967.9,943.9C968.6,944.3 970.0,946.2 970.6,947.3C971.2,948.3 972.0,952.4 972.6,952.6C973.2,952.8 974.5,949.3 975.2,948.6C976.0,947.9 977.7,947.5 978.6,947.3C979.5,947.0 981.7,946.8 982.6,946.6C983.5,946.3 985.1,945.6 985.9,945.3C986.7,945.0 988.4,944.1 989.2,944.2C990.1,944.3 991.6,945.9 992.6,946.3C993.5,946.8 995.6,947.7 996.6,947.9C997.5,948.1 999.1,947.9 999.9,947.9C1000.7,947.9 1002.7,947.5 1003.2,947.9C1003.7,948.4 1003.4,951.1 1003.9,951.7C1004.4,952.2 1006.3,952.8 1007.2,952.6C1008.1,952.4 1010.7,950.6 1011.2,950.3" fill="none" stroke="#000" stroke-width="3.3" stroke-linejoin="round" stroke-linecap="round"/>
<path d="M581.5,370.8C581.2,370.8 580.1,370.9 579.0,370.8C578.0,370.7 573.7,370.7 573.2,370.0C572.7,369.2 574.6,366.2 574.9,365.0C575.1,363.7 575.5,361.2 575.2,360.0C574.9,358.7 573.3,356.0 572.4,355.0C571.4,353.9 568.9,352.2 567.4,351.6C565.8,351.1 561.0,349.9 559.9,350.3C558.8,350.7 559.0,353.8 558.5,355.0C558.1,356.1 557.4,359.0 556.5,359.6C555.7,360.3 552.9,360.2 551.5,360.0C550.2,359.8 547.1,358.6 545.7,358.0C544.4,357.4 541.5,356.0 540.7,355.0C539.9,354.0 539.4,351.1 539.1,350.0C538.7,348.8 539.2,346.1 538.2,345.8C537.3,345.5 533.3,347.1 531.6,347.5C529.8,347.9 525.8,348.7 524.1,349.2C522.3,349.6 518.4,350.3 517.4,351.3C516.4,352.4 516.2,355.8 515.7,357.5C515.3,359.2 514.5,363.2 514.1,365.0C513.7,366.7 513.3,370.3 512.4,371.6C511.5,372.9 508.1,374.3 506.6,375.3C505.0,376.3 501.6,378.5 499.9,379.6C498.3,380.8 494.3,383.3 493.3,384.6C492.2,385.9 492.0,388.5 491.6,390.0C491.2,391.4 490.3,394.7 489.9,396.6C489.5,398.5 489.1,403.7 488.3,404.9C487.4,406.2 484.4,405.9 483.3,406.6C482.1,407.3 479.9,409.2 479.1,410.3C478.3,411.3 477.1,413.4 476.9,414.9C476.7,416.4 477.6,420.5 477.4,422.4C477.3,424.3 476.4,428.1 475.8,429.9C475.1,431.7 473.6,435.2 472.4,436.6C471.3,437.9 467.5,439.7 466.6,440.7C465.7,441.8 465.0,443.8 464.9,444.9C464.8,446.0 465.3,448.7 465.8,449.9C466.3,451.1 468.4,453.8 469.1,454.9C469.8,456.0 471.2,458.1 471.3,459.1C471.4,460.1 470.6,462.2 469.9,462.9C469.3,463.6 466.8,464.2 465.8,464.6C464.7,464.9 462.4,464.8 461.6,465.7C460.8,466.6 460.1,470.9 459.1,471.5C458.2,472.2 455.4,470.6 454.1,470.7C452.9,470.8 450.0,471.7 449.1,472.4C448.3,473.1 447.7,475.5 447.5,476.5C447.3,477.6 447.8,479.4 447.5,480.7C447.1,482.1 445.5,485.8 445.0,487.4C444.4,488.9 443.8,491.7 443.3,493.2C442.8,494.7 441.6,498.0 440.8,499.0C440.0,500.1 437.4,500.8 436.6,501.5C435.9,502.3 434.9,504.2 434.6,504.9C434.4,505.5 434.1,506.0 434.6,506.7C435.2,507.3 437.8,509.5 439.1,510.3C440.4,511.2 443.6,512.5 445.0,513.3C446.3,514.1 449.3,515.7 450.0,516.7C450.6,517.6 450.5,519.8 450.0,520.8C449.4,521.8 447.0,524.1 445.8,524.6C444.5,525.2 440.8,524.2 440.0,525.0C439.1,525.7 439.6,529.8 439.1,530.8C438.7,531.8 437.0,532.2 436.6,533.3C436.3,534.5 436.4,538.7 436.3,540.0C436.2,541.2 435.7,542.0 435.8,543.3C435.9,544.5 436.9,548.6 437.0,550.0C437.0,551.3 436.0,553.1 436.3,554.1C436.6,555.2 438.7,556.8 439.1,558.3C439.6,559.8 438.8,565.2 440.0,566.3C441.1,567.3 446.7,566.0 448.3,566.6C449.9,567.2 451.5,569.4 452.5,570.8C453.4,572.1 454.9,575.6 455.8,577.4C456.7,579.3 458.9,583.7 460.0,585.8C461.0,587.8 463.4,592.3 464.1,594.1C464.8,595.9 465.4,598.5 465.8,599.9C466.2,601.4 466.6,604.9 467.4,605.7C468.3,606.6 471.1,606.6 472.4,606.6C473.8,606.5 477.0,604.9 478.3,605.2C479.5,605.6 481.4,607.9 482.4,609.1C483.5,610.2 486.0,613.6 486.6,614.6C487.2,615.5 487.8,615.8 487.4,616.6C487.0,617.3 484.0,619.6 483.3,620.7C482.6,621.9 482.0,624.4 481.9,625.7C481.9,627.1 482.3,630.4 482.9,631.6C483.5,632.7 485.5,634.2 486.6,634.9C487.7,635.6 490.3,636.7 491.6,637.4C492.8,638.1 496.1,639.6 496.6,640.7C497.1,641.9 495.9,644.7 495.8,646.5C495.6,648.4 495.9,654.5 495.3,655.7C494.6,656.9 491.9,656.1 490.8,656.2C489.6,656.3 486.4,655.9 485.8,656.5C485.1,657.2 485.9,660.6 485.8,661.5C485.6,662.5 485.0,663.3 484.6,664.2C484.2,665.0 482.8,667.1 482.4,668.3C482.1,669.6 482.5,673.1 481.9,674.2C481.4,675.2 479.2,675.7 478.3,676.7C477.4,677.6 474.7,680.6 474.6,681.6C474.5,682.6 476.4,684.1 477.5,684.6C478.5,685.2 482.3,684.9 482.9,685.8C483.6,686.7 483.4,690.3 482.9,691.6C482.5,693.0 480.2,695.5 479.1,696.6C478.0,697.8 475.5,699.8 474.1,700.8C472.8,701.8 469.5,704.3 468.3,705.0C467.0,705.6 465.1,705.8 464.1,706.3C463.2,706.8 461.1,708.3 460.8,709.1C460.5,710.0 461.1,712.9 461.6,713.3C462.2,713.7 463.9,712.7 465.0,712.5C466.0,712.2 469.1,711.0 470.0,711.6C470.8,712.2 471.8,716.4 471.6,717.5C471.5,718.5 469.0,719.1 468.6,720.0C468.3,720.8 468.1,723.1 468.6,724.1C469.1,725.2 471.4,727.1 472.5,728.3C473.6,729.4 476.1,732.3 477.5,733.3C478.8,734.2 481.7,735.4 483.3,735.8C484.8,736.2 488.4,736.8 489.9,736.6C491.5,736.4 494.3,734.2 495.8,734.1C497.2,734.0 500.0,735.6 501.6,735.8C503.2,735.9 506.8,734.9 508.3,735.3C509.7,735.7 512.0,738.4 513.3,739.1C514.5,739.8 517.6,739.6 518.3,740.8C518.9,741.9 518.4,746.5 518.6,748.3C518.8,750.0 519.3,753.7 519.9,754.9C520.5,756.2 523.0,757.4 523.2,758.3C523.5,759.1 521.2,761.6 521.6,761.9C522.0,762.2 525.2,760.9 526.6,760.7C527.9,760.6 530.9,760.6 532.4,760.7C533.9,760.9 537.2,761.2 538.2,761.6C539.3,762.0 539.9,763.7 540.7,764.1C541.5,764.5 543.8,765.2 544.6,764.6C545.3,764.0 546.2,760.3 546.9,759.1C547.6,757.9 548.8,755.4 549.9,754.9C551.0,754.4 554.4,754.7 555.7,755.3C557.1,755.8 559.4,758.3 560.7,759.1C562.0,759.9 565.4,762.5 566.2,761.9C567.0,761.3 566.4,755.4 566.9,754.1C567.3,752.8 568.8,751.8 569.9,751.3C571.0,750.7 574.8,751.2 575.7,749.9C576.6,748.6 576.5,741.8 577.4,740.8C578.2,739.8 581.2,742.1 582.4,741.9C583.5,741.7 585.9,740.3 586.5,739.1C587.2,737.9 586.5,733.5 587.4,732.4C588.2,731.4 591.5,731.0 593.2,730.8C594.9,730.6 599.0,730.8 600.7,730.8C602.4,730.8 605.6,730.9 606.7,730.8C607.7,730.7 607.9,729.7 609.2,729.6C610.4,729.5 615.4,730.1 616.7,730.0C617.9,729.8 618.1,728.5 619.2,728.6C620.2,728.7 623.5,730.2 625.0,730.8C626.4,731.4 629.9,732.4 630.8,733.3C631.7,734.2 631.8,737.1 632.5,738.3C633.1,739.4 635.0,741.9 635.8,742.5C636.6,743.0 638.8,742.0 639.1,742.5C639.4,742.9 637.6,745.2 638.3,745.8C639.0,746.4 643.5,746.8 645.0,747.5C646.4,748.1 648.9,750.1 650.0,750.8C651.0,751.5 652.0,752.9 653.3,753.3C654.5,753.7 658.5,753.6 660.0,754.1C661.4,754.6 664.0,757.0 664.6,757.4" fill="none" stroke="#000" stroke-width="3.3" stroke-linejoin="round" stroke-linecap="round"/>
<path d="M460.8,709.1C460.2,708.8 457.1,707.3 455.8,706.6C454.6,706.0 452.2,705.0 450.8,704.1C449.5,703.3 446.3,700.0 445.0,699.6C443.7,699.2 441.0,700.0 440.3,700.8C439.7,701.6 439.7,704.5 439.7,705.8C439.6,707.0 440.7,709.9 440.0,710.8C439.3,711.7 435.5,713.1 434.2,713.0C432.8,712.9 430.2,710.1 429.2,710.0C428.1,709.8 427.0,711.6 425.8,712.0C424.7,712.3 420.2,713.0 420.0,713.0C419.8,712.9 424.1,712.0 424.0,711.9C423.9,711.8 420.3,712.7 419.0,712.4C417.8,712.0 415.3,709.6 414.0,709.1C412.8,708.5 410.3,708.3 409.0,707.9C407.8,707.5 405.4,705.8 404.0,705.7C402.7,705.6 399.4,706.4 398.2,706.9C396.9,707.4 394.8,709.0 394.0,709.9C393.3,710.8 393.1,713.0 392.4,714.0C391.6,715.1 388.3,716.9 387.9,718.2C387.4,719.6 388.9,723.2 388.5,724.9C388.2,726.6 385.7,731.6 384.9,731.9C384.0,732.2 382.4,728.6 381.5,727.4C380.7,726.2 379.5,723.3 378.2,722.4C377.0,721.4 373.3,720.3 371.5,719.9C369.8,719.5 365.5,718.3 364.1,719.0C362.6,719.8 361.1,724.6 359.9,725.7C358.6,726.8 355.9,727.6 354.1,728.2C352.2,728.8 346.9,730.3 344.9,730.7C342.9,731.1 339.7,730.8 338.2,731.5C336.8,732.3 334.2,736.1 333.2,736.5C332.3,736.9 331.2,735.7 330.7,734.9C330.3,734.0 330.6,731.0 329.9,729.9C329.2,728.7 324.9,726.7 324.9,725.7C324.9,724.7 329.1,722.8 329.9,721.5C330.7,720.3 331.7,717.1 331.2,715.7C330.8,714.4 327.7,712.0 326.6,710.7C325.5,709.5 322.5,707.3 322.4,705.7C322.3,704.2 325.9,699.5 325.8,698.2C325.6,697.0 322.3,696.8 321.6,695.7C320.9,694.7 320.4,691.5 319.9,689.9C319.5,688.3 319.0,685.0 317.9,683.2C316.9,681.5 313.3,677.6 311.6,675.7C309.9,673.9 306.1,669.7 304.1,668.3C302.1,666.8 297.9,665.0 295.8,664.1C293.7,663.2 288.7,660.2 287.5,660.8C286.2,661.3 286.7,667.1 285.8,668.3C284.9,669.4 281.3,669.5 280.0,669.9C278.6,670.3 276.1,672.0 275.3,671.6C274.5,671.2 274.0,667.9 273.6,666.6C273.2,665.3 271.9,662.6 272.0,661.3C272.0,659.9 273.4,657.1 274.1,655.8C274.8,654.5 276.4,651.7 277.5,650.8C278.5,649.8 282.5,649.0 282.5,647.9C282.5,646.9 278.9,643.9 277.5,642.4C276.0,641.0 272.4,638.0 270.8,636.6C269.2,635.3 266.0,632.8 265.0,631.6C263.9,630.5 263.3,628.5 262.5,627.5C261.6,626.5 259.4,623.7 258.3,623.6C257.3,623.5 255.2,626.0 254.1,626.6C253.1,627.2 251.2,628.5 250.0,628.6C248.7,628.7 245.6,627.6 244.2,627.5C242.7,627.3 239.4,627.8 238.3,627.5C237.3,627.1 236.9,625.0 235.8,624.6C234.8,624.2 231.9,624.7 230.0,624.1C228.1,623.5 221.9,621.2 220.7,620.0C219.5,618.9 220.6,615.9 220.2,614.9C219.8,613.8 218.1,612.0 217.4,611.5C216.7,611.1 215.2,610.7 214.6,611.2C213.9,611.7 213.2,615.3 212.4,615.7C211.6,616.0 209.3,614.6 208.2,614.0C207.2,613.5 204.4,612.2 204.1,611.2C203.7,610.1 205.4,607.1 205.2,605.7C205.0,604.3 203.2,601.3 202.4,599.9C201.6,598.4 199.9,595.5 199.1,594.0C198.2,592.6 196.6,589.5 195.7,588.2C194.9,587.0 193.3,584.4 192.4,584.0C191.5,583.7 189.2,585.4 188.2,585.7C187.3,586.0 185.6,586.8 184.6,586.5C183.5,586.3 181.1,584.3 179.9,583.5C178.7,582.8 176.2,581.3 174.9,580.7C173.7,580.1 171.2,579.1 169.9,578.6C168.7,578.0 166.0,577.1 164.9,576.2C163.9,575.3 162.4,572.8 161.6,571.6C160.8,570.3 159.0,567.5 158.3,566.6C157.5,565.6 156.8,564.4 155.8,564.1C154.7,563.8 151.6,564.1 149.9,564.1C148.3,564.1 143.8,563.8 142.4,564.1C141.1,564.4 139.7,565.8 139.1,566.6C138.5,567.3 138.1,569.5 137.5,569.9C136.8,570.3 134.6,569.3 134.1,569.6C133.6,569.8 133.9,571.7 133.3,571.9C132.7,572.1 130.2,571.2 129.1,571.2C128.0,571.3 125.8,572.5 124.6,572.4C123.5,572.3 121.1,570.9 120.0,570.7C118.9,570.6 116.7,571.5 115.8,571.2C114.9,570.9 113.4,568.4 112.5,568.2C111.5,568.1 109.2,570.3 108.3,570.2C107.4,570.2 105.4,568.8 105.3,567.9C105.2,567.0 106.9,564.4 107.5,563.2C108.1,562.0 109.4,559.5 110.0,558.2C110.6,557.0 112.3,554.6 112.5,553.2C112.6,551.9 111.6,548.8 111.3,547.4C111.0,546.0 110.9,542.9 110.3,541.9C109.7,541.0 107.3,540.8 106.6,539.9C106.0,539.0 105.6,536.4 105.3,534.9C105.1,533.5 104.3,529.6 104.6,528.3C105.0,526.9 107.5,525.2 108.3,524.1C109.1,523.0 110.2,520.5 110.8,519.1C111.4,517.7 112.7,514.7 113.3,513.3C113.9,511.8 115.4,509.0 115.8,507.4C116.2,505.9 116.8,502.3 116.6,500.8C116.5,499.2 115.4,496.2 114.6,495.0C113.9,493.7 111.9,491.8 110.8,490.8C109.7,489.8 107.0,488.1 105.8,486.6C104.7,485.2 103.1,480.3 101.6,479.1C100.2,478.0 96.2,478.1 94.2,477.5C92.1,476.9 86.1,474.7 85.0,474.3" fill="none" stroke="#000" stroke-width="3.3" stroke-linejoin="round" stroke-linecap="round"/>
<path d="M84.0,363.6C84.6,362.8 88.0,359.0 89.2,357.7C90.5,356.4 92.9,352.8 93.9,353.1C94.8,353.4 95.4,359.1 96.8,360.1C98.2,361.0 102.9,360.5 105.0,360.6C107.0,360.8 111.9,360.2 113.4,361.2C114.8,362.2 115.6,367.7 116.6,368.8C117.6,369.9 120.8,369.6 121.3,370.0C121.8,370.3 121.5,371.1 120.7,371.7C119.9,372.4 116.0,374.3 114.9,375.2C113.8,376.1 112.5,377.9 112.0,378.7C111.4,379.5 110.3,380.4 110.2,381.6C110.1,382.9 110.8,386.9 111.0,388.6C111.2,390.4 111.8,394.3 111.7,395.6C111.6,396.9 110.7,398.8 110.2,398.9C109.7,398.9 108.3,397.0 107.9,396.2C107.4,395.4 107.2,393.2 106.7,392.7C106.2,392.2 104.5,391.7 103.8,391.9C103.1,392.0 101.7,393.3 101.2,393.9C100.7,394.4 99.7,395.6 99.7,396.5C99.8,397.5 101.4,400.5 101.5,401.4C101.5,402.3 100.3,402.8 100.1,403.8C99.9,404.8 100.2,408.7 99.7,409.6C99.2,410.5 97.1,410.5 96.2,410.8C95.4,411.1 93.3,411.4 92.7,411.9C92.2,412.4 91.6,414.2 91.9,414.8C92.2,415.5 94.6,416.4 95.1,417.2C95.5,418.0 94.9,420.5 95.4,421.3C95.9,422.0 98.5,422.7 99.1,423.4C99.8,424.0 100.8,425.5 100.5,426.5C100.2,427.5 97.8,430.0 96.8,431.2C95.8,432.3 93.3,434.4 92.7,435.8C92.1,437.2 92.3,440.3 92.1,442.2C92.0,444.2 91.6,449.8 91.2,451.6C90.9,453.3 90.1,455.1 89.2,456.2C88.4,457.4 85.2,460.1 84.6,460.7" fill="none" stroke="#000" stroke-width="3.3" stroke-linejoin="round" stroke-linecap="round"/>
<path d="M472.0,454.9C472.6,454.8 475.6,454.4 476.6,454.0C477.7,453.5 479.6,451.4 480.6,451.3C481.6,451.2 483.5,453.0 484.6,453.0C485.8,453.1 488.7,452.0 490.0,451.7C491.2,451.4 493.6,451.1 494.6,450.4C495.6,449.7 497.3,447.4 498.0,446.0C498.6,444.5 500.0,440.0 500.0,438.7C500.0,437.3 498.0,436.1 498.0,435.3C497.9,434.6 498.7,432.8 499.3,432.7C499.9,432.5 501.5,434.4 502.6,434.4C503.7,434.3 506.7,432.9 507.9,432.3C509.2,431.6 511.6,429.7 512.6,429.3C513.6,428.9 515.0,428.6 515.9,429.1C516.9,429.5 519.0,431.3 519.9,432.7C520.9,434.0 522.4,438.7 523.3,440.0C524.1,441.3 525.3,442.3 526.6,442.9C527.8,443.5 531.8,444.4 533.3,445.0C534.8,445.7 537.3,448.0 538.6,448.2C539.8,448.5 542.1,447.4 543.3,447.3C544.4,447.2 547.0,447.0 547.9,447.3C548.8,447.6 550.1,449.1 550.3,450.0C550.5,450.8 549.9,453.2 549.2,454.0C548.6,454.8 546.2,455.6 545.2,456.2C544.3,456.9 542.2,458.3 541.5,459.3C540.8,460.3 539.8,462.8 539.7,464.0C539.5,465.1 539.7,467.5 540.2,468.6C540.6,469.8 542.6,471.9 543.3,473.3C543.9,474.7 545.1,478.2 545.2,480.0C545.4,481.7 545.0,485.4 544.6,487.3C544.2,489.1 542.8,493.0 541.9,494.6C541.1,496.2 538.8,498.6 537.9,499.9C537.1,501.3 535.8,503.6 535.3,505.3C534.8,506.9 534.5,511.6 533.9,513.3C533.3,514.9 531.5,517.6 530.6,518.6C529.6,519.6 527.0,520.4 526.3,521.5C525.7,522.7 525.8,526.4 525.5,527.9C525.3,529.4 524.7,532.3 524.2,533.2C523.7,534.2 521.9,534.7 521.3,535.2C520.6,535.8 519.0,536.7 518.9,537.9C518.7,539.2 520.1,543.4 519.9,545.2C519.8,547.1 517.9,551.4 517.9,552.6C518.0,553.7 519.5,554.4 520.6,554.3C521.7,554.2 525.0,552.5 526.6,551.9C528.2,551.3 531.8,549.7 533.3,549.5C534.7,549.2 536.7,550.0 537.9,549.9C539.2,549.8 542.0,548.8 543.3,548.6C544.5,548.3 546.8,548.4 547.9,548.2C549.0,547.9 551.1,546.5 551.9,546.6C552.7,546.6 553.9,548.1 554.6,548.6C555.2,549.1 556.6,550.6 557.2,550.6C557.9,550.6 559.2,548.5 559.9,548.6C560.6,548.6 562.0,550.3 562.6,551.2C563.2,552.1 563.8,555.1 564.6,555.9C565.3,556.7 567.5,557.9 568.6,557.9C569.6,557.9 572.0,556.6 573.2,555.9C574.5,555.2 577.2,553.2 578.6,552.6C579.9,551.9 582.6,550.9 583.9,550.6C585.2,550.2 587.9,549.8 589.2,549.9C590.5,550.0 593.3,551.1 594.5,551.2C595.8,551.4 598.5,551.0 599.2,551.2C599.9,551.5 599.8,552.3 600.0,553.3C600.2,554.2 600.1,557.3 600.7,558.6C601.2,559.9 603.6,562.8 604.6,563.9C605.6,565.0 607.5,566.9 608.6,567.2C609.8,567.6 612.9,566.3 614.0,566.6C615.1,566.8 616.7,568.4 617.3,569.2C617.9,570.1 618.4,572.6 618.6,573.2C618.9,573.9 619.2,574.4 619.3,574.6" fill="none" stroke="#808080" stroke-width="1.4" stroke-linejoin="round" stroke-linecap="round"/>
<path d="M545.2,480.0C545.5,479.5 546.4,477.3 547.2,476.6C548.1,476.0 550.8,475.8 551.9,474.6C553.0,473.5 554.9,469.0 555.9,467.3C556.9,465.6 558.8,462.5 559.9,461.3C561.0,460.1 563.7,457.5 564.6,457.3C565.4,457.1 566.3,458.6 566.6,460.0C566.8,461.3 566.5,466.0 566.3,468.0C566.1,470.0 565.5,474.0 565.2,476.0C564.9,478.0 563.8,482.1 563.9,483.9C564.0,485.8 565.1,488.9 565.9,490.6C566.6,492.3 568.9,495.9 569.9,497.3C570.9,498.7 572.8,500.8 573.9,501.9C575.0,503.1 577.3,505.5 578.6,506.6C579.8,507.7 582.6,509.5 583.9,510.6C585.2,511.7 587.9,514.0 589.2,515.3C590.5,516.5 593.4,519.5 594.5,520.6C595.6,521.6 597.0,524.1 598.0,523.7C599.0,523.3 601.3,518.5 602.6,517.3C604.0,516.1 607.3,514.5 608.6,514.0C610.0,513.4 612.2,512.7 613.3,512.6C614.4,512.5 617.0,513.0 617.6,513.0" fill="none" stroke="#808080" stroke-width="1.4" stroke-linejoin="round" stroke-linecap="round"/>
<path d="M566.6,460.0C567.0,459.8 569.1,458.5 569.9,458.6C570.7,458.8 572.4,460.5 573.2,461.3C574.1,462.1 575.4,464.9 576.6,465.3C577.7,465.7 581.3,464.9 582.6,464.6C583.8,464.3 586.0,462.1 586.5,462.9C587.1,463.6 586.8,469.0 587.2,470.6C587.6,472.3 588.9,475.2 589.9,476.0C590.9,476.7 594.5,476.5 595.2,476.6" fill="none" stroke="#808080" stroke-width="1.4" stroke-linejoin="round" stroke-linecap="round"/>
<path d="M452.0,519.3C452.3,519.4 454.0,520.0 454.7,520.6C455.3,521.2 456.4,523.4 457.3,523.9C458.2,524.4 460.8,524.7 462.0,524.6C463.1,524.5 465.6,524.1 466.6,523.3C467.7,522.4 469.5,519.5 470.6,517.9C471.8,516.4 474.8,511.1 476.0,510.9C477.1,510.6 478.7,514.2 480.0,515.9C481.2,517.6 484.6,523.7 486.0,524.6C487.3,525.5 489.9,524.4 490.6,523.3C491.4,522.1 491.5,516.3 492.0,515.3C492.4,514.3 493.6,514.5 494.0,515.3C494.3,516.0 494.2,519.8 494.6,521.3C495.0,522.7 496.8,525.4 497.3,526.6C497.8,527.7 498.0,530.2 498.6,530.6C499.3,531.0 501.7,530.8 502.6,529.9C503.5,529.0 505.1,524.1 505.9,523.3C506.8,522.4 508.2,522.8 509.3,523.3C510.4,523.8 513.4,526.4 514.6,527.2C515.8,528.1 517.5,529.0 518.6,529.9C519.7,530.8 522.7,534.0 523.3,534.6" fill="none" stroke="#808080" stroke-width="1.4" stroke-linejoin="round" stroke-linecap="round"/>
<path d="M537.9,549.9C538.0,550.5 538.8,553.5 538.9,554.6C538.9,555.6 539.0,557.6 538.6,558.6C538.1,559.6 536.1,561.5 535.3,562.6C534.4,563.6 532.5,566.3 532.0,567.3C531.4,568.3 531.3,570.0 530.6,570.7C530.0,571.3 527.3,571.9 526.6,572.6C525.9,573.4 524.9,575.5 524.9,576.6C524.9,577.8 526.9,580.9 526.6,582.0C526.3,583.1 523.2,584.5 522.6,585.3C522.0,586.1 521.5,587.6 521.7,588.6C521.9,589.7 523.3,592.7 524.0,594.0C524.6,595.2 526.1,597.4 526.6,598.6C527.2,599.9 528.4,602.6 528.4,604.0C528.4,605.3 526.7,608.0 526.6,609.3C526.5,610.5 527.3,612.5 527.6,613.9C527.8,615.4 528.3,619.4 528.6,620.6C528.9,621.9 529.1,623.6 530.0,623.9C530.8,624.3 533.9,623.2 535.3,623.3C536.6,623.4 539.4,624.2 540.6,624.6C541.9,625.0 544.2,626.5 545.3,626.6C546.4,626.7 548.4,625.8 549.3,625.3C550.1,624.8 551.2,622.8 551.9,622.6C552.7,622.4 554.2,623.5 555.3,623.5C556.3,623.6 559.6,622.7 560.6,623.0C561.6,623.3 562.7,625.4 563.3,625.9C563.8,626.5 564.6,627.2 565.3,627.3C565.9,627.3 567.6,626.3 568.6,626.2C569.6,626.1 572.1,626.2 573.3,626.6C574.4,627.0 576.5,628.9 577.9,629.3C579.3,629.7 582.8,629.9 584.6,629.9C586.3,630.0 590.2,629.6 591.9,629.7C593.6,629.7 596.5,630.3 597.9,630.2C599.3,630.2 602.0,629.1 603.2,629.3C604.5,629.4 606.6,631.3 607.9,631.5C609.2,631.8 612.3,631.1 613.9,631.0C615.5,630.9 619.0,630.9 620.5,631.0C622.1,631.1 625.3,631.0 626.5,631.9C627.8,632.8 629.9,636.6 630.8,638.2C631.8,639.9 633.5,643.2 634.1,644.9C634.8,646.6 635.1,649.9 635.8,651.6C636.5,653.2 638.9,657.0 640.0,658.2C641.0,659.5 643.5,660.7 644.1,661.6C644.8,662.4 644.2,664.5 645.0,664.9C645.7,665.3 648.9,664.1 650.0,664.6C651.0,665.0 652.5,667.2 653.3,668.2C654.1,669.2 655.3,671.8 656.6,672.4C658.0,673.0 662.8,672.7 664.1,673.2C665.5,673.7 666.8,675.8 667.4,676.5C668.1,677.3 668.9,678.7 669.1,679.0" fill="none" stroke="#808080" stroke-width="1.4" stroke-linejoin="round" stroke-linecap="round"/>
<path d="M645.3,543.9C645.2,543.3 645.8,539.3 645.0,538.6C644.2,537.9 640.3,538.6 638.6,538.6C636.9,538.6 632.5,537.8 631.3,538.3C630.0,538.8 629.2,541.5 628.6,542.6C628.0,543.7 626.5,546.0 626.6,547.3C626.8,548.5 629.8,551.3 630.0,552.6C630.1,553.8 628.6,556.0 628.0,557.3C627.3,558.5 625.5,561.1 624.6,562.6C623.7,564.1 621.3,567.7 620.6,569.2C620.0,570.7 619.0,573.7 619.3,574.6C619.6,575.5 622.3,576.2 623.3,576.6C624.3,577.0 626.5,577.1 627.3,577.9C628.1,578.7 629.4,581.9 630.0,583.2C630.5,584.6 631.9,587.3 632.0,588.6C632.0,589.8 630.6,592.3 630.4,593.2C630.1,594.1 630.0,595.6 630.0,595.9" fill="none" stroke="#808080" stroke-width="1.4" stroke-linejoin="round" stroke-linecap="round"/>
<path d="M591.9,629.7C592.0,629.4 592.1,628.2 592.6,627.3C593.1,626.4 595.4,623.9 595.9,622.6C596.4,621.3 596.4,617.9 596.6,616.6C596.7,615.3 596.6,612.8 597.2,612.0C597.9,611.1 601.0,610.8 601.9,610.0C602.8,609.1 603.6,606.5 604.6,605.3C605.6,604.1 608.6,601.8 609.9,600.6C611.2,599.5 613.7,596.7 615.2,596.0C616.7,595.3 619.8,594.9 621.6,594.9C623.5,595.0 627.9,596.0 630.0,596.6C632.1,597.2 636.4,599.0 638.3,599.9C640.2,600.9 643.7,603.2 645.0,604.1C646.2,605.0 647.4,607.4 648.3,607.4C649.2,607.5 651.3,605.2 652.5,604.6C653.6,604.0 656.0,602.6 657.5,602.4C658.9,602.3 662.7,603.5 664.1,603.3C665.6,603.1 668.4,601.8 669.1,600.8C669.8,599.7 669.2,596.0 669.9,594.9C670.7,593.9 673.8,592.3 674.9,592.4C676.1,592.6 677.9,594.6 679.1,595.8C680.3,596.9 683.5,600.6 684.9,601.6C686.4,602.6 689.4,604.5 690.8,604.1C692.1,603.7 694.2,598.9 695.8,598.3C697.3,597.7 701.5,598.7 703.2,599.1C705.0,599.5 708.6,601.1 709.9,601.6C711.3,602.1 713.6,603.1 714.1,603.3" fill="none" stroke="#808080" stroke-width="1.4" stroke-linejoin="round" stroke-linecap="round"/>
<path d="M645.0,664.9C644.0,665.3 638.9,667.1 637.5,668.2C636.0,669.4 633.7,672.8 633.3,674.0C632.9,675.3 633.4,677.2 634.1,678.2C634.9,679.3 638.7,681.3 639.1,682.4C639.6,683.4 638.5,686.1 637.5,686.5C636.4,687.0 632.6,685.3 630.8,685.7C629.0,686.1 625.1,688.7 623.3,689.9C621.5,691.0 617.9,693.4 616.7,694.9C615.4,696.3 613.8,699.6 613.3,701.5C612.8,703.4 612.5,708.5 612.5,710.0C612.5,711.5 613.0,712.1 613.3,713.3C613.7,714.6 614.9,718.1 615.3,720.0C615.7,721.8 616.5,727.3 616.7,728.3" fill="none" stroke="#808080" stroke-width="1.4" stroke-linejoin="round" stroke-linecap="round"/>
<path d="M565.3,627.3C564.8,627.6 562.4,628.9 561.9,629.9C561.5,630.9 561.4,633.9 561.7,635.3C561.9,636.6 563.5,639.3 563.9,640.6C564.4,641.9 565.1,644.6 565.3,645.9C565.4,647.3 565.9,650.8 565.3,651.3C564.6,651.8 560.7,650.5 559.9,649.9C559.1,649.3 559.6,647.1 559.0,646.6C558.4,646.1 556.2,645.5 555.3,645.7C554.3,645.8 552.2,647.0 551.3,647.9C550.4,648.9 548.6,652.0 547.9,653.3C547.3,654.5 546.3,656.8 545.9,657.9C545.6,659.0 545.8,660.9 545.3,661.9C544.8,662.9 542.8,665.0 541.9,665.9C541.1,666.8 539.6,668.5 538.6,669.2C537.6,670.0 535.1,671.4 533.9,671.9C532.8,672.4 530.0,672.7 529.3,673.2C528.6,673.8 528.5,675.6 528.6,676.6C528.8,677.5 530.2,679.6 530.6,680.6C531.0,681.6 531.9,683.6 532.0,684.6C532.0,685.6 531.6,687.4 531.0,688.6C530.4,689.7 528.5,693.0 527.3,694.0C526.1,695.0 523.0,696.4 521.6,696.3C520.1,696.2 517.4,693.0 515.8,693.0C514.1,692.9 510.2,694.9 508.3,695.8C506.3,696.7 501.8,699.0 499.9,700.0C498.1,700.9 494.2,702.4 493.3,703.3C492.3,704.2 493.2,706.5 492.4,707.0C491.7,707.4 488.2,707.8 487.4,706.6C486.7,705.4 487.3,698.9 486.6,697.5C485.9,696.0 482.2,695.3 481.6,695.0" fill="none" stroke="#808080" stroke-width="1.4" stroke-linejoin="round" stroke-linecap="round"/>
<path d="M531.0,688.6C531.6,688.5 534.1,688.2 535.3,687.9C536.5,687.6 539.3,686.3 540.6,685.9C541.9,685.5 544.6,684.9 545.9,684.6C547.3,684.2 550.0,683.5 551.3,683.2C552.5,683.0 555.2,682.2 555.9,682.6C556.7,682.9 556.7,685.0 557.3,685.9C557.8,686.8 559.5,688.9 560.6,689.9C561.7,690.9 564.8,692.9 565.9,694.0C567.1,695.2 568.5,698.6 569.9,699.1C571.2,699.7 575.0,698.3 576.5,698.6C578.1,698.9 580.9,700.6 582.4,701.6C583.8,702.6 587.0,705.2 588.2,706.6C589.3,708.1 591.5,711.6 591.5,713.3C591.5,715.0 588.6,718.6 588.2,720.0C587.8,721.3 587.9,724.1 588.5,724.1C589.2,724.1 591.4,720.9 593.2,720.0C595.0,719.0 600.7,717.5 603.2,716.6C605.7,715.8 611.9,713.7 613.2,713.3" fill="none" stroke="#808080" stroke-width="1.4" stroke-linejoin="round" stroke-linecap="round"/>
<path d="M490.0,615.3C490.5,615.1 492.9,614.0 494.0,614.2C495.1,614.5 497.4,616.4 498.6,617.3C499.9,618.2 502.7,621.2 504.0,621.3C505.2,621.4 507.4,618.9 508.6,617.9C509.9,616.9 512.6,614.2 514.0,613.3C515.3,612.4 517.7,611.1 519.3,610.6C520.9,610.2 525.7,609.8 526.6,609.7" fill="none" stroke="#808080" stroke-width="1.4" stroke-linejoin="round" stroke-linecap="round"/>
</g>
<rect x="85.5" y="45.5" width="925.0" height="1001.0" fill="none" stroke="#000" stroke-width="1.1"/>
<text transform="translate(158.7,1067) scale(1,1.07)" font-size="16.67" letter-spacing="-0.35" text-anchor="middle">5°E</text>
<text transform="translate(343.7,1067) scale(1,1.07)" font-size="16.67" letter-spacing="-0.35" text-anchor="middle">5.5°E</text>
<text transform="translate(528.7,1067) scale(1,1.07)" font-size="16.67" letter-spacing="-0.35" text-anchor="middle">6°E</text>
<text transform="translate(713.7,1067) scale(1,1.07)" font-size="16.67" letter-spacing="-0.35" text-anchor="middle">6.5°E</text>
<text transform="translate(898.7,1067) scale(1,1.07)" font-size="16.67" letter-spacing="-0.35" text-anchor="middle">7°E</text>
<text transform="translate(77.6,166.5) scale(1,1.07)" font-size="16.67" letter-spacing="-0.12" text-anchor="end">50.5°N</text>
<text transform="translate(77.6,311.2) scale(1,1.07)" font-size="16.67" letter-spacing="-0.12" text-anchor="end">50.25°N</text>
<text transform="translate(77.6,455.1) scale(1,1.07)" font-size="16.67" letter-spacing="-0.12" text-anchor="end">50°N</text>
<text transform="translate(77.6,598.3) scale(1,1.07)" font-size="16.67" letter-spacing="-0.12" text-anchor="end">49.75°N</text>
<text transform="translate(77.6,740.8) scale(1,1.07)" font-size="16.67" letter-spacing="-0.12" text-anchor="end">49.5°N</text>
<text transform="translate(77.6,882.5) scale(1,1.07)" font-size="16.67" letter-spacing="-0.12" text-anchor="end">49.25°N</text>
<text transform="translate(77.6,1023.5) scale(1,1.07)" font-size="16.67" letter-spacing="-0.12" text-anchor="end">49°N</text>
<text x="548" y="38" font-size="34.72" text-anchor="middle">05.09.2025 03:25 UTC</text>
<rect x="97.5" y="53.5" width="218" height="50.3" fill="#fff" stroke="#000" stroke-width="1.1"/>
<text transform="translate(103,73) scale(1,1.06)" font-size="16.67">Product: 0.8° Reflectivity</text>
<text transform="translate(103,93) scale(1,1.06)" font-size="16.67">Data: DWD</text>
<rect x="1068.5" y="963.84" width="45.0" height="32.56" fill="#6474a8"/>
<rect x="1068.5" y="931.68" width="45.0" height="32.56" fill="#5468a2"/>
<rect x="1068.5" y="899.52" width="45.0" height="32.56" fill="#4460a2"/>
<rect x="1068.5" y="867.36" width="45.0" height="32.56" fill="#4c7cb4"/>
<rect x="1068.5" y="835.20" width="45.0" height="32.56" fill="#5a9ec8"/>
<rect x="1068.5" y="803.04" width="45.0" height="32.56" fill="#64c0dc"/>
<rect x="1068.5" y="770.88" width="45.0" height="32.56" fill="#62d6c0"/>
<rect x="1068.5" y="738.71" width="45.0" height="32.56" fill="#3cd470"/>
<rect x="1068.5" y="706.55" width="45.0" height="32.56" fill="#12c41c"/>
<rect x="1068.5" y="674.39" width="45.0" height="32.56" fill="#12b41c"/>
<rect x="1068.5" y="642.23" width="45.0" height="32.56" fill="#12a018"/>
<rect x="1068.5" y="610.07" width="45.0" height="32.56" fill="#0e8c16"/>
<rect x="1068.5" y="577.91" width="45.0" height="32.56" fill="#0c7812"/>
<rect x="1068.5" y="545.75" width="45.0" height="32.56" fill="#086010"/>
<rect x="1068.5" y="513.59" width="45.0" height="32.56" fill="#457c0c"/>
<rect x="1068.5" y="481.43" width="45.0" height="32.56" fill="#b0b00c"/>
<rect x="1068.5" y="449.27" width="45.0" height="32.56" fill="#ffd800"/>
<rect x="1068.5" y="417.11" width="45.0" height="32.56" fill="#ffb400"/>
<rect x="1068.5" y="384.95" width="45.0" height="32.56" fill="#ff9a00"/>
<rect x="1068.5" y="352.79" width="45.0" height="32.56" fill="#ff8000"/>
<rect x="1068.5" y="320.62" width="45.0" height="32.56" fill="#e40000"/>
<rect x="1068.5" y="288.46" width="45.0" height="32.56" fill="#c00000"/>
<rect x="1068.5" y="256.30" width="45.0" height="32.56" fill="#9c0000"/>
<rect x="1068.5" y="224.14" width="45.0" height="32.56" fill="#7a0000"/>
<rect x="1068.5" y="191.98" width="45.0" height="32.56" fill="#ffe0ff"/>
<rect x="1068.5" y="159.82" width="45.0" height="32.56" fill="#feb2fe"/>
<rect x="1068.5" y="127.66" width="45.0" height="32.56" fill="#fb6cfb"/>
<rect x="1068.5" y="95.50" width="45.0" height="32.56" fill="#ea33ee"/>
<rect x="1068.5" y="95.5" width="45.0" height="900.5" fill="none" stroke="#000" stroke-width="1.1"/>
<line x1="1113.5" y1="996.00" x2="1118.5" y2="996.00" stroke="#000" stroke-width="1.1"/>
<text x="1123" y="1006.20" font-size="27.78" letter-spacing="-0.8">0</text>
<line x1="1113.5" y1="867.36" x2="1118.5" y2="867.36" stroke="#000" stroke-width="1.1"/>
<text x="1123" y="877.56" font-size="27.78" letter-spacing="-0.8">10</text>
<line x1="1113.5" y1="738.71" x2="1118.5" y2="738.71" stroke="#000" stroke-width="1.1"/>
<text x="1123" y="748.91" font-size="27.78" letter-spacing="-0.8">20</text>
<line x1="1113.5" y1="610.07" x2="1118.5" y2="610.07" stroke="#000" stroke-width="1.1"/>
<text x="1123" y="620.27" font-size="27.78" letter-spacing="-0.8">30</text>
<line x1="1113.5" y1="481.43" x2="1118.5" y2="481.43" stroke="#000" stroke-width="1.1"/>
<text x="1123" y="491.63" font-size="27.78" letter-spacing="-0.8">40</text>
<line x1="1113.5" y1="352.79" x2="1118.5" y2="352.79" stroke="#000" stroke-width="1.1"/>
<text x="1123" y="362.99" font-size="27.78" letter-spacing="-0.8">50</text>
<line x1="1113.5" y1="224.14" x2="1118.5" y2="224.14" stroke="#000" stroke-width="1.1"/>
<text x="1123" y="234.34" font-size="27.78" letter-spacing="-0.8">60</text>
<line x1="1113.5" y1="95.50" x2="1118.5" y2="95.50" stroke="#000" stroke-width="1.1"/>
<text x="1123" y="105.70" font-size="27.78" letter-spacing="-0.8">70</text>
<text transform="translate(1187,548.5) rotate(-90)" font-size="27.78" text-anchor="middle">dBZ</text>
<circle cx="732" cy="386.7" r="5.0" fill="#f00" stroke="#000" stroke-width="0.9"/>
</svg></body></html>
